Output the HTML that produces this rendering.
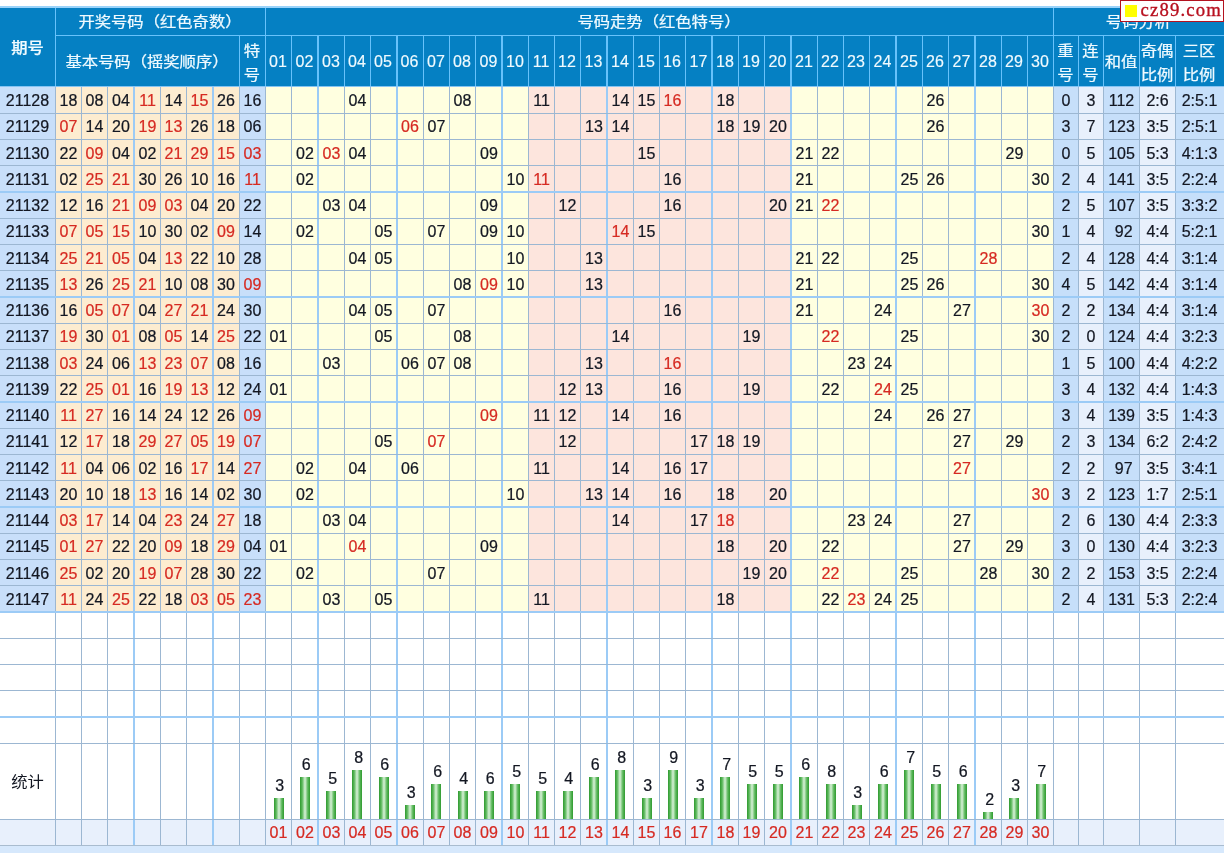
<!DOCTYPE html>
<html lang="zh-CN"><head><meta charset="utf-8"><title>号码走势</title><style>
html,body{margin:0;padding:0;background:#fff;}
body{width:1224px;height:853px;overflow:hidden;position:relative;font-family:"Liberation Sans","Noto Sans CJK SC",sans-serif;font-size:16px;color:#131722;}
.r{position:absolute;}
.t{position:absolute;text-align:center;white-space:nowrap;overflow:visible;-webkit-text-stroke:0.22px currentColor;}
.h{color:#f0faff;-webkit-text-stroke:0.15px currentColor;}
.hc{-webkit-text-stroke:0.25px #f0faff;transform:scale(1.02,0.93);}
.cn{transform:scale(1.02,0.93);-webkit-text-stroke:0;}
.hb{font-weight:500;}
.two{line-height:25.5px;}
.red{color:#d62a22;}
.bar{position:absolute;width:10px;background:linear-gradient(90deg,#2f9a2f 0%,#5cb85c 22%,#d9f2d9 50%,#5cb85c 78%,#2f9a2f 100%);}
.wm{position:absolute;left:1120px;top:0;width:104px;height:22px;background:#fff;border:1px solid #b3121f;box-sizing:border-box;}
.sq{position:absolute;left:4px;top:4px;width:12px;height:12px;background:#ffff00;}
.wt{position:absolute;left:19.5px;top:-3.5px;font-family:"Liberation Serif",serif;font-size:18.7px;line-height:24px;color:#b8101f;letter-spacing:1.15px;-webkit-text-stroke:0.35px #b8101f;}
</style></head><body>
<div class="r" style="left:0.00px;top:6.00px;width:1224.00px;height:2.00px;background:#9ad3fa;"></div>
<div class="r" style="left:0.00px;top:8.00px;width:1224.00px;height:79.00px;background:#0580c3;"></div>
<div class="r" style="left:0.00px;top:87.00px;width:55.00px;height:26.00px;background:#c8dffa;"></div>
<div class="r" style="left:55.00px;top:87.00px;width:184.00px;height:26.00px;background:#fdecd0;"></div>
<div class="r" style="left:239.00px;top:87.00px;width:26.00px;height:26.00px;background:#c8dffa;"></div>
<div class="r" style="left:265.00px;top:87.00px;width:263.00px;height:26.00px;background:#ffffe0;"></div>
<div class="r" style="left:528.00px;top:87.00px;width:263.00px;height:26.00px;background:#fde5dd;"></div>
<div class="r" style="left:791.00px;top:87.00px;width:262.00px;height:26.00px;background:#ffffe0;"></div>
<div class="r" style="left:1053.00px;top:87.00px;width:25.00px;height:26.00px;background:#c6dffa;"></div>
<div class="r" style="left:1078.00px;top:87.00px;width:25.00px;height:26.00px;background:#e8f0fc;"></div>
<div class="r" style="left:1103.00px;top:87.00px;width:36.00px;height:26.00px;background:#c6dffa;"></div>
<div class="r" style="left:1139.00px;top:87.00px;width:36.00px;height:26.00px;background:#e8f0fc;"></div>
<div class="r" style="left:1175.00px;top:87.00px;width:49.00px;height:26.00px;background:#c6dffa;"></div>
<div class="r" style="left:0.00px;top:113.00px;width:55.00px;height:26.00px;background:#c8dffa;"></div>
<div class="r" style="left:55.00px;top:113.00px;width:184.00px;height:26.00px;background:#fdecd0;"></div>
<div class="r" style="left:239.00px;top:113.00px;width:26.00px;height:26.00px;background:#c8dffa;"></div>
<div class="r" style="left:265.00px;top:113.00px;width:263.00px;height:26.00px;background:#ffffe0;"></div>
<div class="r" style="left:528.00px;top:113.00px;width:263.00px;height:26.00px;background:#fde5dd;"></div>
<div class="r" style="left:791.00px;top:113.00px;width:262.00px;height:26.00px;background:#ffffe0;"></div>
<div class="r" style="left:1053.00px;top:113.00px;width:25.00px;height:26.00px;background:#c6dffa;"></div>
<div class="r" style="left:1078.00px;top:113.00px;width:25.00px;height:26.00px;background:#e8f0fc;"></div>
<div class="r" style="left:1103.00px;top:113.00px;width:36.00px;height:26.00px;background:#c6dffa;"></div>
<div class="r" style="left:1139.00px;top:113.00px;width:36.00px;height:26.00px;background:#e8f0fc;"></div>
<div class="r" style="left:1175.00px;top:113.00px;width:49.00px;height:26.00px;background:#c6dffa;"></div>
<div class="r" style="left:0.00px;top:139.00px;width:55.00px;height:26.00px;background:#c8dffa;"></div>
<div class="r" style="left:55.00px;top:139.00px;width:184.00px;height:26.00px;background:#fdecd0;"></div>
<div class="r" style="left:239.00px;top:139.00px;width:26.00px;height:26.00px;background:#c8dffa;"></div>
<div class="r" style="left:265.00px;top:139.00px;width:263.00px;height:26.00px;background:#ffffe0;"></div>
<div class="r" style="left:528.00px;top:139.00px;width:263.00px;height:26.00px;background:#fde5dd;"></div>
<div class="r" style="left:791.00px;top:139.00px;width:262.00px;height:26.00px;background:#ffffe0;"></div>
<div class="r" style="left:1053.00px;top:139.00px;width:25.00px;height:26.00px;background:#c6dffa;"></div>
<div class="r" style="left:1078.00px;top:139.00px;width:25.00px;height:26.00px;background:#e8f0fc;"></div>
<div class="r" style="left:1103.00px;top:139.00px;width:36.00px;height:26.00px;background:#c6dffa;"></div>
<div class="r" style="left:1139.00px;top:139.00px;width:36.00px;height:26.00px;background:#e8f0fc;"></div>
<div class="r" style="left:1175.00px;top:139.00px;width:49.00px;height:26.00px;background:#c6dffa;"></div>
<div class="r" style="left:0.00px;top:165.00px;width:55.00px;height:27.00px;background:#c8dffa;"></div>
<div class="r" style="left:55.00px;top:165.00px;width:184.00px;height:27.00px;background:#fdecd0;"></div>
<div class="r" style="left:239.00px;top:165.00px;width:26.00px;height:27.00px;background:#c8dffa;"></div>
<div class="r" style="left:265.00px;top:165.00px;width:263.00px;height:27.00px;background:#ffffe0;"></div>
<div class="r" style="left:528.00px;top:165.00px;width:263.00px;height:27.00px;background:#fde5dd;"></div>
<div class="r" style="left:791.00px;top:165.00px;width:262.00px;height:27.00px;background:#ffffe0;"></div>
<div class="r" style="left:1053.00px;top:165.00px;width:25.00px;height:27.00px;background:#c6dffa;"></div>
<div class="r" style="left:1078.00px;top:165.00px;width:25.00px;height:27.00px;background:#e8f0fc;"></div>
<div class="r" style="left:1103.00px;top:165.00px;width:36.00px;height:27.00px;background:#c6dffa;"></div>
<div class="r" style="left:1139.00px;top:165.00px;width:36.00px;height:27.00px;background:#e8f0fc;"></div>
<div class="r" style="left:1175.00px;top:165.00px;width:49.00px;height:27.00px;background:#c6dffa;"></div>
<div class="r" style="left:0.00px;top:192.00px;width:55.00px;height:26.00px;background:#c8dffa;"></div>
<div class="r" style="left:55.00px;top:192.00px;width:184.00px;height:26.00px;background:#fdecd0;"></div>
<div class="r" style="left:239.00px;top:192.00px;width:26.00px;height:26.00px;background:#c8dffa;"></div>
<div class="r" style="left:265.00px;top:192.00px;width:263.00px;height:26.00px;background:#ffffe0;"></div>
<div class="r" style="left:528.00px;top:192.00px;width:263.00px;height:26.00px;background:#fde5dd;"></div>
<div class="r" style="left:791.00px;top:192.00px;width:262.00px;height:26.00px;background:#ffffe0;"></div>
<div class="r" style="left:1053.00px;top:192.00px;width:25.00px;height:26.00px;background:#c6dffa;"></div>
<div class="r" style="left:1078.00px;top:192.00px;width:25.00px;height:26.00px;background:#e8f0fc;"></div>
<div class="r" style="left:1103.00px;top:192.00px;width:36.00px;height:26.00px;background:#c6dffa;"></div>
<div class="r" style="left:1139.00px;top:192.00px;width:36.00px;height:26.00px;background:#e8f0fc;"></div>
<div class="r" style="left:1175.00px;top:192.00px;width:49.00px;height:26.00px;background:#c6dffa;"></div>
<div class="r" style="left:0.00px;top:218.00px;width:55.00px;height:26.00px;background:#c8dffa;"></div>
<div class="r" style="left:55.00px;top:218.00px;width:184.00px;height:26.00px;background:#fdecd0;"></div>
<div class="r" style="left:239.00px;top:218.00px;width:26.00px;height:26.00px;background:#c8dffa;"></div>
<div class="r" style="left:265.00px;top:218.00px;width:263.00px;height:26.00px;background:#ffffe0;"></div>
<div class="r" style="left:528.00px;top:218.00px;width:263.00px;height:26.00px;background:#fde5dd;"></div>
<div class="r" style="left:791.00px;top:218.00px;width:262.00px;height:26.00px;background:#ffffe0;"></div>
<div class="r" style="left:1053.00px;top:218.00px;width:25.00px;height:26.00px;background:#c6dffa;"></div>
<div class="r" style="left:1078.00px;top:218.00px;width:25.00px;height:26.00px;background:#e8f0fc;"></div>
<div class="r" style="left:1103.00px;top:218.00px;width:36.00px;height:26.00px;background:#c6dffa;"></div>
<div class="r" style="left:1139.00px;top:218.00px;width:36.00px;height:26.00px;background:#e8f0fc;"></div>
<div class="r" style="left:1175.00px;top:218.00px;width:49.00px;height:26.00px;background:#c6dffa;"></div>
<div class="r" style="left:0.00px;top:244.00px;width:55.00px;height:26.00px;background:#c8dffa;"></div>
<div class="r" style="left:55.00px;top:244.00px;width:184.00px;height:26.00px;background:#fdecd0;"></div>
<div class="r" style="left:239.00px;top:244.00px;width:26.00px;height:26.00px;background:#c8dffa;"></div>
<div class="r" style="left:265.00px;top:244.00px;width:263.00px;height:26.00px;background:#ffffe0;"></div>
<div class="r" style="left:528.00px;top:244.00px;width:263.00px;height:26.00px;background:#fde5dd;"></div>
<div class="r" style="left:791.00px;top:244.00px;width:262.00px;height:26.00px;background:#ffffe0;"></div>
<div class="r" style="left:1053.00px;top:244.00px;width:25.00px;height:26.00px;background:#c6dffa;"></div>
<div class="r" style="left:1078.00px;top:244.00px;width:25.00px;height:26.00px;background:#e8f0fc;"></div>
<div class="r" style="left:1103.00px;top:244.00px;width:36.00px;height:26.00px;background:#c6dffa;"></div>
<div class="r" style="left:1139.00px;top:244.00px;width:36.00px;height:26.00px;background:#e8f0fc;"></div>
<div class="r" style="left:1175.00px;top:244.00px;width:49.00px;height:26.00px;background:#c6dffa;"></div>
<div class="r" style="left:0.00px;top:270.00px;width:55.00px;height:27.00px;background:#c8dffa;"></div>
<div class="r" style="left:55.00px;top:270.00px;width:184.00px;height:27.00px;background:#fdecd0;"></div>
<div class="r" style="left:239.00px;top:270.00px;width:26.00px;height:27.00px;background:#c8dffa;"></div>
<div class="r" style="left:265.00px;top:270.00px;width:263.00px;height:27.00px;background:#ffffe0;"></div>
<div class="r" style="left:528.00px;top:270.00px;width:263.00px;height:27.00px;background:#fde5dd;"></div>
<div class="r" style="left:791.00px;top:270.00px;width:262.00px;height:27.00px;background:#ffffe0;"></div>
<div class="r" style="left:1053.00px;top:270.00px;width:25.00px;height:27.00px;background:#c6dffa;"></div>
<div class="r" style="left:1078.00px;top:270.00px;width:25.00px;height:27.00px;background:#e8f0fc;"></div>
<div class="r" style="left:1103.00px;top:270.00px;width:36.00px;height:27.00px;background:#c6dffa;"></div>
<div class="r" style="left:1139.00px;top:270.00px;width:36.00px;height:27.00px;background:#e8f0fc;"></div>
<div class="r" style="left:1175.00px;top:270.00px;width:49.00px;height:27.00px;background:#c6dffa;"></div>
<div class="r" style="left:0.00px;top:297.00px;width:55.00px;height:26.00px;background:#c8dffa;"></div>
<div class="r" style="left:55.00px;top:297.00px;width:184.00px;height:26.00px;background:#fdecd0;"></div>
<div class="r" style="left:239.00px;top:297.00px;width:26.00px;height:26.00px;background:#c8dffa;"></div>
<div class="r" style="left:265.00px;top:297.00px;width:263.00px;height:26.00px;background:#ffffe0;"></div>
<div class="r" style="left:528.00px;top:297.00px;width:263.00px;height:26.00px;background:#fde5dd;"></div>
<div class="r" style="left:791.00px;top:297.00px;width:262.00px;height:26.00px;background:#ffffe0;"></div>
<div class="r" style="left:1053.00px;top:297.00px;width:25.00px;height:26.00px;background:#c6dffa;"></div>
<div class="r" style="left:1078.00px;top:297.00px;width:25.00px;height:26.00px;background:#e8f0fc;"></div>
<div class="r" style="left:1103.00px;top:297.00px;width:36.00px;height:26.00px;background:#c6dffa;"></div>
<div class="r" style="left:1139.00px;top:297.00px;width:36.00px;height:26.00px;background:#e8f0fc;"></div>
<div class="r" style="left:1175.00px;top:297.00px;width:49.00px;height:26.00px;background:#c6dffa;"></div>
<div class="r" style="left:0.00px;top:323.00px;width:55.00px;height:26.00px;background:#c8dffa;"></div>
<div class="r" style="left:55.00px;top:323.00px;width:184.00px;height:26.00px;background:#fdecd0;"></div>
<div class="r" style="left:239.00px;top:323.00px;width:26.00px;height:26.00px;background:#c8dffa;"></div>
<div class="r" style="left:265.00px;top:323.00px;width:263.00px;height:26.00px;background:#ffffe0;"></div>
<div class="r" style="left:528.00px;top:323.00px;width:263.00px;height:26.00px;background:#fde5dd;"></div>
<div class="r" style="left:791.00px;top:323.00px;width:262.00px;height:26.00px;background:#ffffe0;"></div>
<div class="r" style="left:1053.00px;top:323.00px;width:25.00px;height:26.00px;background:#c6dffa;"></div>
<div class="r" style="left:1078.00px;top:323.00px;width:25.00px;height:26.00px;background:#e8f0fc;"></div>
<div class="r" style="left:1103.00px;top:323.00px;width:36.00px;height:26.00px;background:#c6dffa;"></div>
<div class="r" style="left:1139.00px;top:323.00px;width:36.00px;height:26.00px;background:#e8f0fc;"></div>
<div class="r" style="left:1175.00px;top:323.00px;width:49.00px;height:26.00px;background:#c6dffa;"></div>
<div class="r" style="left:0.00px;top:349.00px;width:55.00px;height:26.00px;background:#c8dffa;"></div>
<div class="r" style="left:55.00px;top:349.00px;width:184.00px;height:26.00px;background:#fdecd0;"></div>
<div class="r" style="left:239.00px;top:349.00px;width:26.00px;height:26.00px;background:#c8dffa;"></div>
<div class="r" style="left:265.00px;top:349.00px;width:263.00px;height:26.00px;background:#ffffe0;"></div>
<div class="r" style="left:528.00px;top:349.00px;width:263.00px;height:26.00px;background:#fde5dd;"></div>
<div class="r" style="left:791.00px;top:349.00px;width:262.00px;height:26.00px;background:#ffffe0;"></div>
<div class="r" style="left:1053.00px;top:349.00px;width:25.00px;height:26.00px;background:#c6dffa;"></div>
<div class="r" style="left:1078.00px;top:349.00px;width:25.00px;height:26.00px;background:#e8f0fc;"></div>
<div class="r" style="left:1103.00px;top:349.00px;width:36.00px;height:26.00px;background:#c6dffa;"></div>
<div class="r" style="left:1139.00px;top:349.00px;width:36.00px;height:26.00px;background:#e8f0fc;"></div>
<div class="r" style="left:1175.00px;top:349.00px;width:49.00px;height:26.00px;background:#c6dffa;"></div>
<div class="r" style="left:0.00px;top:375.00px;width:55.00px;height:27.00px;background:#c8dffa;"></div>
<div class="r" style="left:55.00px;top:375.00px;width:184.00px;height:27.00px;background:#fdecd0;"></div>
<div class="r" style="left:239.00px;top:375.00px;width:26.00px;height:27.00px;background:#c8dffa;"></div>
<div class="r" style="left:265.00px;top:375.00px;width:263.00px;height:27.00px;background:#ffffe0;"></div>
<div class="r" style="left:528.00px;top:375.00px;width:263.00px;height:27.00px;background:#fde5dd;"></div>
<div class="r" style="left:791.00px;top:375.00px;width:262.00px;height:27.00px;background:#ffffe0;"></div>
<div class="r" style="left:1053.00px;top:375.00px;width:25.00px;height:27.00px;background:#c6dffa;"></div>
<div class="r" style="left:1078.00px;top:375.00px;width:25.00px;height:27.00px;background:#e8f0fc;"></div>
<div class="r" style="left:1103.00px;top:375.00px;width:36.00px;height:27.00px;background:#c6dffa;"></div>
<div class="r" style="left:1139.00px;top:375.00px;width:36.00px;height:27.00px;background:#e8f0fc;"></div>
<div class="r" style="left:1175.00px;top:375.00px;width:49.00px;height:27.00px;background:#c6dffa;"></div>
<div class="r" style="left:0.00px;top:402.00px;width:55.00px;height:26.00px;background:#c8dffa;"></div>
<div class="r" style="left:55.00px;top:402.00px;width:184.00px;height:26.00px;background:#fdecd0;"></div>
<div class="r" style="left:239.00px;top:402.00px;width:26.00px;height:26.00px;background:#c8dffa;"></div>
<div class="r" style="left:265.00px;top:402.00px;width:263.00px;height:26.00px;background:#ffffe0;"></div>
<div class="r" style="left:528.00px;top:402.00px;width:263.00px;height:26.00px;background:#fde5dd;"></div>
<div class="r" style="left:791.00px;top:402.00px;width:262.00px;height:26.00px;background:#ffffe0;"></div>
<div class="r" style="left:1053.00px;top:402.00px;width:25.00px;height:26.00px;background:#c6dffa;"></div>
<div class="r" style="left:1078.00px;top:402.00px;width:25.00px;height:26.00px;background:#e8f0fc;"></div>
<div class="r" style="left:1103.00px;top:402.00px;width:36.00px;height:26.00px;background:#c6dffa;"></div>
<div class="r" style="left:1139.00px;top:402.00px;width:36.00px;height:26.00px;background:#e8f0fc;"></div>
<div class="r" style="left:1175.00px;top:402.00px;width:49.00px;height:26.00px;background:#c6dffa;"></div>
<div class="r" style="left:0.00px;top:428.00px;width:55.00px;height:26.00px;background:#c8dffa;"></div>
<div class="r" style="left:55.00px;top:428.00px;width:184.00px;height:26.00px;background:#fdecd0;"></div>
<div class="r" style="left:239.00px;top:428.00px;width:26.00px;height:26.00px;background:#c8dffa;"></div>
<div class="r" style="left:265.00px;top:428.00px;width:263.00px;height:26.00px;background:#ffffe0;"></div>
<div class="r" style="left:528.00px;top:428.00px;width:263.00px;height:26.00px;background:#fde5dd;"></div>
<div class="r" style="left:791.00px;top:428.00px;width:262.00px;height:26.00px;background:#ffffe0;"></div>
<div class="r" style="left:1053.00px;top:428.00px;width:25.00px;height:26.00px;background:#c6dffa;"></div>
<div class="r" style="left:1078.00px;top:428.00px;width:25.00px;height:26.00px;background:#e8f0fc;"></div>
<div class="r" style="left:1103.00px;top:428.00px;width:36.00px;height:26.00px;background:#c6dffa;"></div>
<div class="r" style="left:1139.00px;top:428.00px;width:36.00px;height:26.00px;background:#e8f0fc;"></div>
<div class="r" style="left:1175.00px;top:428.00px;width:49.00px;height:26.00px;background:#c6dffa;"></div>
<div class="r" style="left:0.00px;top:454.00px;width:55.00px;height:26.00px;background:#c8dffa;"></div>
<div class="r" style="left:55.00px;top:454.00px;width:184.00px;height:26.00px;background:#fdecd0;"></div>
<div class="r" style="left:239.00px;top:454.00px;width:26.00px;height:26.00px;background:#c8dffa;"></div>
<div class="r" style="left:265.00px;top:454.00px;width:263.00px;height:26.00px;background:#ffffe0;"></div>
<div class="r" style="left:528.00px;top:454.00px;width:263.00px;height:26.00px;background:#fde5dd;"></div>
<div class="r" style="left:791.00px;top:454.00px;width:262.00px;height:26.00px;background:#ffffe0;"></div>
<div class="r" style="left:1053.00px;top:454.00px;width:25.00px;height:26.00px;background:#c6dffa;"></div>
<div class="r" style="left:1078.00px;top:454.00px;width:25.00px;height:26.00px;background:#e8f0fc;"></div>
<div class="r" style="left:1103.00px;top:454.00px;width:36.00px;height:26.00px;background:#c6dffa;"></div>
<div class="r" style="left:1139.00px;top:454.00px;width:36.00px;height:26.00px;background:#e8f0fc;"></div>
<div class="r" style="left:1175.00px;top:454.00px;width:49.00px;height:26.00px;background:#c6dffa;"></div>
<div class="r" style="left:0.00px;top:480.00px;width:55.00px;height:27.00px;background:#c8dffa;"></div>
<div class="r" style="left:55.00px;top:480.00px;width:184.00px;height:27.00px;background:#fdecd0;"></div>
<div class="r" style="left:239.00px;top:480.00px;width:26.00px;height:27.00px;background:#c8dffa;"></div>
<div class="r" style="left:265.00px;top:480.00px;width:263.00px;height:27.00px;background:#ffffe0;"></div>
<div class="r" style="left:528.00px;top:480.00px;width:263.00px;height:27.00px;background:#fde5dd;"></div>
<div class="r" style="left:791.00px;top:480.00px;width:262.00px;height:27.00px;background:#ffffe0;"></div>
<div class="r" style="left:1053.00px;top:480.00px;width:25.00px;height:27.00px;background:#c6dffa;"></div>
<div class="r" style="left:1078.00px;top:480.00px;width:25.00px;height:27.00px;background:#e8f0fc;"></div>
<div class="r" style="left:1103.00px;top:480.00px;width:36.00px;height:27.00px;background:#c6dffa;"></div>
<div class="r" style="left:1139.00px;top:480.00px;width:36.00px;height:27.00px;background:#e8f0fc;"></div>
<div class="r" style="left:1175.00px;top:480.00px;width:49.00px;height:27.00px;background:#c6dffa;"></div>
<div class="r" style="left:0.00px;top:507.00px;width:55.00px;height:26.00px;background:#c8dffa;"></div>
<div class="r" style="left:55.00px;top:507.00px;width:184.00px;height:26.00px;background:#fdecd0;"></div>
<div class="r" style="left:239.00px;top:507.00px;width:26.00px;height:26.00px;background:#c8dffa;"></div>
<div class="r" style="left:265.00px;top:507.00px;width:263.00px;height:26.00px;background:#ffffe0;"></div>
<div class="r" style="left:528.00px;top:507.00px;width:263.00px;height:26.00px;background:#fde5dd;"></div>
<div class="r" style="left:791.00px;top:507.00px;width:262.00px;height:26.00px;background:#ffffe0;"></div>
<div class="r" style="left:1053.00px;top:507.00px;width:25.00px;height:26.00px;background:#c6dffa;"></div>
<div class="r" style="left:1078.00px;top:507.00px;width:25.00px;height:26.00px;background:#e8f0fc;"></div>
<div class="r" style="left:1103.00px;top:507.00px;width:36.00px;height:26.00px;background:#c6dffa;"></div>
<div class="r" style="left:1139.00px;top:507.00px;width:36.00px;height:26.00px;background:#e8f0fc;"></div>
<div class="r" style="left:1175.00px;top:507.00px;width:49.00px;height:26.00px;background:#c6dffa;"></div>
<div class="r" style="left:0.00px;top:533.00px;width:55.00px;height:26.00px;background:#c8dffa;"></div>
<div class="r" style="left:55.00px;top:533.00px;width:184.00px;height:26.00px;background:#fdecd0;"></div>
<div class="r" style="left:239.00px;top:533.00px;width:26.00px;height:26.00px;background:#c8dffa;"></div>
<div class="r" style="left:265.00px;top:533.00px;width:263.00px;height:26.00px;background:#ffffe0;"></div>
<div class="r" style="left:528.00px;top:533.00px;width:263.00px;height:26.00px;background:#fde5dd;"></div>
<div class="r" style="left:791.00px;top:533.00px;width:262.00px;height:26.00px;background:#ffffe0;"></div>
<div class="r" style="left:1053.00px;top:533.00px;width:25.00px;height:26.00px;background:#c6dffa;"></div>
<div class="r" style="left:1078.00px;top:533.00px;width:25.00px;height:26.00px;background:#e8f0fc;"></div>
<div class="r" style="left:1103.00px;top:533.00px;width:36.00px;height:26.00px;background:#c6dffa;"></div>
<div class="r" style="left:1139.00px;top:533.00px;width:36.00px;height:26.00px;background:#e8f0fc;"></div>
<div class="r" style="left:1175.00px;top:533.00px;width:49.00px;height:26.00px;background:#c6dffa;"></div>
<div class="r" style="left:0.00px;top:559.00px;width:55.00px;height:26.00px;background:#c8dffa;"></div>
<div class="r" style="left:55.00px;top:559.00px;width:184.00px;height:26.00px;background:#fdecd0;"></div>
<div class="r" style="left:239.00px;top:559.00px;width:26.00px;height:26.00px;background:#c8dffa;"></div>
<div class="r" style="left:265.00px;top:559.00px;width:263.00px;height:26.00px;background:#ffffe0;"></div>
<div class="r" style="left:528.00px;top:559.00px;width:263.00px;height:26.00px;background:#fde5dd;"></div>
<div class="r" style="left:791.00px;top:559.00px;width:262.00px;height:26.00px;background:#ffffe0;"></div>
<div class="r" style="left:1053.00px;top:559.00px;width:25.00px;height:26.00px;background:#c6dffa;"></div>
<div class="r" style="left:1078.00px;top:559.00px;width:25.00px;height:26.00px;background:#e8f0fc;"></div>
<div class="r" style="left:1103.00px;top:559.00px;width:36.00px;height:26.00px;background:#c6dffa;"></div>
<div class="r" style="left:1139.00px;top:559.00px;width:36.00px;height:26.00px;background:#e8f0fc;"></div>
<div class="r" style="left:1175.00px;top:559.00px;width:49.00px;height:26.00px;background:#c6dffa;"></div>
<div class="r" style="left:0.00px;top:585.00px;width:55.00px;height:27.00px;background:#c8dffa;"></div>
<div class="r" style="left:55.00px;top:585.00px;width:184.00px;height:27.00px;background:#fdecd0;"></div>
<div class="r" style="left:239.00px;top:585.00px;width:26.00px;height:27.00px;background:#c8dffa;"></div>
<div class="r" style="left:265.00px;top:585.00px;width:263.00px;height:27.00px;background:#ffffe0;"></div>
<div class="r" style="left:528.00px;top:585.00px;width:263.00px;height:27.00px;background:#fde5dd;"></div>
<div class="r" style="left:791.00px;top:585.00px;width:262.00px;height:27.00px;background:#ffffe0;"></div>
<div class="r" style="left:1053.00px;top:585.00px;width:25.00px;height:27.00px;background:#c6dffa;"></div>
<div class="r" style="left:1078.00px;top:585.00px;width:25.00px;height:27.00px;background:#e8f0fc;"></div>
<div class="r" style="left:1103.00px;top:585.00px;width:36.00px;height:27.00px;background:#c6dffa;"></div>
<div class="r" style="left:1139.00px;top:585.00px;width:36.00px;height:27.00px;background:#e8f0fc;"></div>
<div class="r" style="left:1175.00px;top:585.00px;width:49.00px;height:27.00px;background:#c6dffa;"></div>
<div class="r" style="left:0.00px;top:819.00px;width:1224.00px;height:26.00px;background:#e8f0fc;"></div>
<div class="r" style="left:0.00px;top:845.00px;width:1224.00px;height:8.00px;background:#d6e8fc;"></div>
<div class="r" style="left:55.00px;top:87.00px;width:1.00px;height:758.00px;background:#9cb7d2;"></div>
<div class="r" style="left:81.00px;top:87.00px;width:1.00px;height:758.00px;background:#9cb7d2;"></div>
<div class="r" style="left:107.00px;top:87.00px;width:1.00px;height:758.00px;background:#9cb7d2;"></div>
<div class="r" style="left:133.00px;top:87.00px;width:2.00px;height:758.00px;background:#9ccbf6;"></div>
<div class="r" style="left:160.00px;top:87.00px;width:1.00px;height:758.00px;background:#9cb7d2;"></div>
<div class="r" style="left:186.00px;top:87.00px;width:1.00px;height:758.00px;background:#9cb7d2;"></div>
<div class="r" style="left:212.00px;top:87.00px;width:2.00px;height:758.00px;background:#9ccbf6;"></div>
<div class="r" style="left:239.00px;top:87.00px;width:1.00px;height:758.00px;background:#9cb7d2;"></div>
<div class="r" style="left:265.00px;top:87.00px;width:1.00px;height:758.00px;background:#9cb7d2;"></div>
<div class="r" style="left:291.00px;top:87.00px;width:1.00px;height:758.00px;background:#9cb7d2;"></div>
<div class="r" style="left:317.00px;top:87.00px;width:2.00px;height:758.00px;background:#9ccbf6;"></div>
<div class="r" style="left:344.00px;top:87.00px;width:1.00px;height:758.00px;background:#9cb7d2;"></div>
<div class="r" style="left:370.00px;top:87.00px;width:1.00px;height:758.00px;background:#9cb7d2;"></div>
<div class="r" style="left:396.00px;top:87.00px;width:2.00px;height:758.00px;background:#9ccbf6;"></div>
<div class="r" style="left:423.00px;top:87.00px;width:1.00px;height:758.00px;background:#9cb7d2;"></div>
<div class="r" style="left:449.00px;top:87.00px;width:1.00px;height:758.00px;background:#9cb7d2;"></div>
<div class="r" style="left:475.00px;top:87.00px;width:1.00px;height:758.00px;background:#9cb7d2;"></div>
<div class="r" style="left:501.00px;top:87.00px;width:2.00px;height:758.00px;background:#9ccbf6;"></div>
<div class="r" style="left:528.00px;top:87.00px;width:1.00px;height:758.00px;background:#9cb7d2;"></div>
<div class="r" style="left:554.00px;top:87.00px;width:1.00px;height:758.00px;background:#9cb7d2;"></div>
<div class="r" style="left:580.00px;top:87.00px;width:1.00px;height:758.00px;background:#9cb7d2;"></div>
<div class="r" style="left:606.00px;top:87.00px;width:2.00px;height:758.00px;background:#9ccbf6;"></div>
<div class="r" style="left:633.00px;top:87.00px;width:1.00px;height:758.00px;background:#9cb7d2;"></div>
<div class="r" style="left:659.00px;top:87.00px;width:1.00px;height:758.00px;background:#9cb7d2;"></div>
<div class="r" style="left:685.00px;top:87.00px;width:1.00px;height:758.00px;background:#9cb7d2;"></div>
<div class="r" style="left:711.00px;top:87.00px;width:2.00px;height:758.00px;background:#9ccbf6;"></div>
<div class="r" style="left:738.00px;top:87.00px;width:1.00px;height:758.00px;background:#9cb7d2;"></div>
<div class="r" style="left:764.00px;top:87.00px;width:1.00px;height:758.00px;background:#9cb7d2;"></div>
<div class="r" style="left:790.00px;top:87.00px;width:2.00px;height:758.00px;background:#9ccbf6;"></div>
<div class="r" style="left:817.00px;top:87.00px;width:1.00px;height:758.00px;background:#9cb7d2;"></div>
<div class="r" style="left:843.00px;top:87.00px;width:1.00px;height:758.00px;background:#9cb7d2;"></div>
<div class="r" style="left:869.00px;top:87.00px;width:1.00px;height:758.00px;background:#9cb7d2;"></div>
<div class="r" style="left:895.00px;top:87.00px;width:2.00px;height:758.00px;background:#9ccbf6;"></div>
<div class="r" style="left:922.00px;top:87.00px;width:1.00px;height:758.00px;background:#9cb7d2;"></div>
<div class="r" style="left:948.00px;top:87.00px;width:1.00px;height:758.00px;background:#9cb7d2;"></div>
<div class="r" style="left:974.00px;top:87.00px;width:2.00px;height:758.00px;background:#9ccbf6;"></div>
<div class="r" style="left:1001.00px;top:87.00px;width:1.00px;height:758.00px;background:#9cb7d2;"></div>
<div class="r" style="left:1027.00px;top:87.00px;width:1.00px;height:758.00px;background:#9cb7d2;"></div>
<div class="r" style="left:1053.00px;top:87.00px;width:1.00px;height:758.00px;background:#9cb7d2;"></div>
<div class="r" style="left:1078.00px;top:87.00px;width:1.00px;height:758.00px;background:#9cb7d2;"></div>
<div class="r" style="left:1103.00px;top:87.00px;width:1.00px;height:758.00px;background:#9cb7d2;"></div>
<div class="r" style="left:1139.00px;top:87.00px;width:1.00px;height:758.00px;background:#9cb7d2;"></div>
<div class="r" style="left:1175.00px;top:87.00px;width:1.00px;height:758.00px;background:#9cb7d2;"></div>
<div class="r" style="left:0.00px;top:113.00px;width:1224.00px;height:1.00px;background:#9cb7d2;"></div>
<div class="r" style="left:0.00px;top:139.00px;width:1224.00px;height:1.00px;background:#9cb7d2;"></div>
<div class="r" style="left:0.00px;top:165.00px;width:1224.00px;height:1.00px;background:#9cb7d2;"></div>
<div class="r" style="left:0.00px;top:191.00px;width:1224.00px;height:2.00px;background:#9ccbf6;"></div>
<div class="r" style="left:0.00px;top:218.00px;width:1224.00px;height:1.00px;background:#9cb7d2;"></div>
<div class="r" style="left:0.00px;top:244.00px;width:1224.00px;height:1.00px;background:#9cb7d2;"></div>
<div class="r" style="left:0.00px;top:270.00px;width:1224.00px;height:1.00px;background:#9cb7d2;"></div>
<div class="r" style="left:0.00px;top:296.00px;width:1224.00px;height:2.00px;background:#9ccbf6;"></div>
<div class="r" style="left:0.00px;top:323.00px;width:1224.00px;height:1.00px;background:#9cb7d2;"></div>
<div class="r" style="left:0.00px;top:349.00px;width:1224.00px;height:1.00px;background:#9cb7d2;"></div>
<div class="r" style="left:0.00px;top:375.00px;width:1224.00px;height:1.00px;background:#9cb7d2;"></div>
<div class="r" style="left:0.00px;top:401.00px;width:1224.00px;height:2.00px;background:#9ccbf6;"></div>
<div class="r" style="left:0.00px;top:428.00px;width:1224.00px;height:1.00px;background:#9cb7d2;"></div>
<div class="r" style="left:0.00px;top:454.00px;width:1224.00px;height:1.00px;background:#9cb7d2;"></div>
<div class="r" style="left:0.00px;top:480.00px;width:1224.00px;height:1.00px;background:#9cb7d2;"></div>
<div class="r" style="left:0.00px;top:506.00px;width:1224.00px;height:2.00px;background:#9ccbf6;"></div>
<div class="r" style="left:0.00px;top:533.00px;width:1224.00px;height:1.00px;background:#9cb7d2;"></div>
<div class="r" style="left:0.00px;top:559.00px;width:1224.00px;height:1.00px;background:#9cb7d2;"></div>
<div class="r" style="left:0.00px;top:585.00px;width:1224.00px;height:1.00px;background:#9cb7d2;"></div>
<div class="r" style="left:0.00px;top:611.00px;width:1224.00px;height:2.00px;background:#9ccbf6;"></div>
<div class="r" style="left:0.00px;top:638.00px;width:1224.00px;height:1.00px;background:#9cb7d2;"></div>
<div class="r" style="left:0.00px;top:664.00px;width:1224.00px;height:1.00px;background:#9cb7d2;"></div>
<div class="r" style="left:0.00px;top:690.00px;width:1224.00px;height:1.00px;background:#9cb7d2;"></div>
<div class="r" style="left:0.00px;top:716.00px;width:1224.00px;height:2.00px;background:#9ccbf6;"></div>
<div class="r" style="left:0.00px;top:743.00px;width:1224.00px;height:1.00px;background:#9cb7d2;"></div>
<div class="r" style="left:0.00px;top:819.00px;width:1224.00px;height:1.00px;background:#9cb7d2;"></div>
<div class="r" style="left:0.00px;top:845.00px;width:1224.00px;height:1.00px;background:#a9bccf;"></div>
<div class="r" style="left:55.00px;top:35.00px;width:1169.00px;height:1.00px;background:#68c2fb;"></div>
<div class="r" style="left:55.00px;top:8.00px;width:1.00px;height:79.00px;background:#68c2fb;"></div>
<div class="r" style="left:265.00px;top:8.00px;width:1.00px;height:79.00px;background:#68c2fb;"></div>
<div class="r" style="left:1053.00px;top:8.00px;width:1.00px;height:79.00px;background:#68c2fb;"></div>
<div class="r" style="left:239.00px;top:35.00px;width:1.00px;height:52.00px;background:#68c2fb;"></div>
<div class="r" style="left:291.00px;top:35.00px;width:1.00px;height:52.00px;background:#68c2fb;"></div>
<div class="r" style="left:317.00px;top:35.00px;width:2.00px;height:52.00px;background:#68c2fb;"></div>
<div class="r" style="left:344.00px;top:35.00px;width:1.00px;height:52.00px;background:#68c2fb;"></div>
<div class="r" style="left:370.00px;top:35.00px;width:1.00px;height:52.00px;background:#68c2fb;"></div>
<div class="r" style="left:396.00px;top:35.00px;width:2.00px;height:52.00px;background:#68c2fb;"></div>
<div class="r" style="left:423.00px;top:35.00px;width:1.00px;height:52.00px;background:#68c2fb;"></div>
<div class="r" style="left:449.00px;top:35.00px;width:1.00px;height:52.00px;background:#68c2fb;"></div>
<div class="r" style="left:475.00px;top:35.00px;width:1.00px;height:52.00px;background:#68c2fb;"></div>
<div class="r" style="left:501.00px;top:35.00px;width:2.00px;height:52.00px;background:#68c2fb;"></div>
<div class="r" style="left:528.00px;top:35.00px;width:1.00px;height:52.00px;background:#68c2fb;"></div>
<div class="r" style="left:554.00px;top:35.00px;width:1.00px;height:52.00px;background:#68c2fb;"></div>
<div class="r" style="left:580.00px;top:35.00px;width:1.00px;height:52.00px;background:#68c2fb;"></div>
<div class="r" style="left:606.00px;top:35.00px;width:2.00px;height:52.00px;background:#68c2fb;"></div>
<div class="r" style="left:633.00px;top:35.00px;width:1.00px;height:52.00px;background:#68c2fb;"></div>
<div class="r" style="left:659.00px;top:35.00px;width:1.00px;height:52.00px;background:#68c2fb;"></div>
<div class="r" style="left:685.00px;top:35.00px;width:1.00px;height:52.00px;background:#68c2fb;"></div>
<div class="r" style="left:711.00px;top:35.00px;width:2.00px;height:52.00px;background:#68c2fb;"></div>
<div class="r" style="left:738.00px;top:35.00px;width:1.00px;height:52.00px;background:#68c2fb;"></div>
<div class="r" style="left:764.00px;top:35.00px;width:1.00px;height:52.00px;background:#68c2fb;"></div>
<div class="r" style="left:790.00px;top:35.00px;width:2.00px;height:52.00px;background:#68c2fb;"></div>
<div class="r" style="left:817.00px;top:35.00px;width:1.00px;height:52.00px;background:#68c2fb;"></div>
<div class="r" style="left:843.00px;top:35.00px;width:1.00px;height:52.00px;background:#68c2fb;"></div>
<div class="r" style="left:869.00px;top:35.00px;width:1.00px;height:52.00px;background:#68c2fb;"></div>
<div class="r" style="left:895.00px;top:35.00px;width:2.00px;height:52.00px;background:#68c2fb;"></div>
<div class="r" style="left:922.00px;top:35.00px;width:1.00px;height:52.00px;background:#68c2fb;"></div>
<div class="r" style="left:948.00px;top:35.00px;width:1.00px;height:52.00px;background:#68c2fb;"></div>
<div class="r" style="left:974.00px;top:35.00px;width:2.00px;height:52.00px;background:#68c2fb;"></div>
<div class="r" style="left:1001.00px;top:35.00px;width:1.00px;height:52.00px;background:#68c2fb;"></div>
<div class="r" style="left:1027.00px;top:35.00px;width:1.00px;height:52.00px;background:#68c2fb;"></div>
<div class="r" style="left:1078.00px;top:35.00px;width:1.00px;height:52.00px;background:#68c2fb;"></div>
<div class="r" style="left:1103.00px;top:35.00px;width:1.00px;height:52.00px;background:#68c2fb;"></div>
<div class="r" style="left:1139.00px;top:35.00px;width:1.00px;height:52.00px;background:#68c2fb;"></div>
<div class="r" style="left:1175.00px;top:35.00px;width:1.00px;height:52.00px;background:#68c2fb;"></div>
<div class="r" style="left:0.00px;top:86.00px;width:1224.00px;height:1.00px;background:#86c4f3;"></div>
<div class="t h hb hc" style="left:0.00px;top:8.00px;width:55.00px;height:79.00px;line-height:79.00px;">期号</div>
<div class="t h hc" style="left:55.00px;top:8.00px;width:210.00px;height:27.00px;line-height:27.00px;">开奖号码（红色奇数）</div>
<div class="t h hc" style="left:265.00px;top:8.00px;width:788.00px;height:27.00px;line-height:27.00px;">号码走势（红色特号）</div>
<div class="t h hc" style="left:1053.00px;top:8.00px;width:171.00px;height:27.00px;line-height:27.00px;">号码分析</div>
<div class="t h hc" style="left:55.00px;top:36.00px;width:184.00px;height:52.00px;line-height:52.00px;">基本号码（摇奖顺序）</div>
<div class="t h hc two" style="left:239px;top:37px;width:26px;height:51px;">特<br>号</div>
<div class="t h" style="left:265.00px;top:36.00px;width:26.00px;height:52.00px;line-height:52.00px;">01</div>
<div class="t h" style="left:291.00px;top:36.00px;width:27.00px;height:52.00px;line-height:52.00px;">02</div>
<div class="t h" style="left:318.00px;top:36.00px;width:26.00px;height:52.00px;line-height:52.00px;">03</div>
<div class="t h" style="left:344.00px;top:36.00px;width:26.00px;height:52.00px;line-height:52.00px;">04</div>
<div class="t h" style="left:370.00px;top:36.00px;width:26.00px;height:52.00px;line-height:52.00px;">05</div>
<div class="t h" style="left:396.00px;top:36.00px;width:27.00px;height:52.00px;line-height:52.00px;">06</div>
<div class="t h" style="left:423.00px;top:36.00px;width:26.00px;height:52.00px;line-height:52.00px;">07</div>
<div class="t h" style="left:449.00px;top:36.00px;width:26.00px;height:52.00px;line-height:52.00px;">08</div>
<div class="t h" style="left:475.00px;top:36.00px;width:27.00px;height:52.00px;line-height:52.00px;">09</div>
<div class="t h" style="left:502.00px;top:36.00px;width:26.00px;height:52.00px;line-height:52.00px;">10</div>
<div class="t h" style="left:528.00px;top:36.00px;width:26.00px;height:52.00px;line-height:52.00px;">11</div>
<div class="t h" style="left:554.00px;top:36.00px;width:26.00px;height:52.00px;line-height:52.00px;">12</div>
<div class="t h" style="left:580.00px;top:36.00px;width:27.00px;height:52.00px;line-height:52.00px;">13</div>
<div class="t h" style="left:607.00px;top:36.00px;width:26.00px;height:52.00px;line-height:52.00px;">14</div>
<div class="t h" style="left:633.00px;top:36.00px;width:26.00px;height:52.00px;line-height:52.00px;">15</div>
<div class="t h" style="left:659.00px;top:36.00px;width:26.00px;height:52.00px;line-height:52.00px;">16</div>
<div class="t h" style="left:685.00px;top:36.00px;width:27.00px;height:52.00px;line-height:52.00px;">17</div>
<div class="t h" style="left:712.00px;top:36.00px;width:26.00px;height:52.00px;line-height:52.00px;">18</div>
<div class="t h" style="left:738.00px;top:36.00px;width:26.00px;height:52.00px;line-height:52.00px;">19</div>
<div class="t h" style="left:764.00px;top:36.00px;width:27.00px;height:52.00px;line-height:52.00px;">20</div>
<div class="t h" style="left:791.00px;top:36.00px;width:26.00px;height:52.00px;line-height:52.00px;">21</div>
<div class="t h" style="left:817.00px;top:36.00px;width:26.00px;height:52.00px;line-height:52.00px;">22</div>
<div class="t h" style="left:843.00px;top:36.00px;width:26.00px;height:52.00px;line-height:52.00px;">23</div>
<div class="t h" style="left:869.00px;top:36.00px;width:27.00px;height:52.00px;line-height:52.00px;">24</div>
<div class="t h" style="left:896.00px;top:36.00px;width:26.00px;height:52.00px;line-height:52.00px;">25</div>
<div class="t h" style="left:922.00px;top:36.00px;width:26.00px;height:52.00px;line-height:52.00px;">26</div>
<div class="t h" style="left:948.00px;top:36.00px;width:27.00px;height:52.00px;line-height:52.00px;">27</div>
<div class="t h" style="left:975.00px;top:36.00px;width:26.00px;height:52.00px;line-height:52.00px;">28</div>
<div class="t h" style="left:1001.00px;top:36.00px;width:26.00px;height:52.00px;line-height:52.00px;">29</div>
<div class="t h" style="left:1027.00px;top:36.00px;width:26.00px;height:52.00px;line-height:52.00px;">30</div>
<div class="t h hc two" style="left:1053px;top:37px;width:25px;height:51px;">重<br>号</div>
<div class="t h hc two" style="left:1078px;top:37px;width:25px;height:51px;">连<br>号</div>
<div class="t h hc" style="left:1103.00px;top:36.00px;width:36.00px;height:52.00px;line-height:52.00px;">和值</div>
<div class="t h hc two" style="left:1139px;top:37px;width:36px;height:51px;">奇偶<br>比例</div>
<div class="t h hc two" style="left:1175px;top:37px;width:48px;height:51px;">三区<br>比例</div>
<div class="t " style="left:0.00px;top:88.00px;width:55.00px;height:25.00px;line-height:25.00px;">21128</div>
<div class="t " style="left:56.00px;top:88.00px;width:25.00px;height:25.00px;line-height:25.00px;">18</div>
<div class="t " style="left:82.00px;top:88.00px;width:25.00px;height:25.00px;line-height:25.00px;">08</div>
<div class="t " style="left:108.00px;top:88.00px;width:26.00px;height:25.00px;line-height:25.00px;">04</div>
<div class="t red" style="left:135.00px;top:88.00px;width:25.00px;height:25.00px;line-height:25.00px;">11</div>
<div class="t " style="left:161.00px;top:88.00px;width:25.00px;height:25.00px;line-height:25.00px;">14</div>
<div class="t red" style="left:187.00px;top:88.00px;width:25.00px;height:25.00px;line-height:25.00px;">15</div>
<div class="t " style="left:213.00px;top:88.00px;width:26.00px;height:25.00px;line-height:25.00px;">26</div>
<div class="t " style="left:240.00px;top:88.00px;width:25.00px;height:25.00px;line-height:25.00px;">16</div>
<div class="t " style="left:713.00px;top:88.00px;width:25.00px;height:25.00px;line-height:25.00px;">18</div>
<div class="t " style="left:450.00px;top:88.00px;width:25.00px;height:25.00px;line-height:25.00px;">08</div>
<div class="t " style="left:345.00px;top:88.00px;width:25.00px;height:25.00px;line-height:25.00px;">04</div>
<div class="t " style="left:529.00px;top:88.00px;width:25.00px;height:25.00px;line-height:25.00px;">11</div>
<div class="t " style="left:608.00px;top:88.00px;width:25.00px;height:25.00px;line-height:25.00px;">14</div>
<div class="t " style="left:634.00px;top:88.00px;width:25.00px;height:25.00px;line-height:25.00px;">15</div>
<div class="t " style="left:923.00px;top:88.00px;width:25.00px;height:25.00px;line-height:25.00px;">26</div>
<div class="t red" style="left:660.00px;top:88.00px;width:25.00px;height:25.00px;line-height:25.00px;">16</div>
<div class="t " style="left:1054.00px;top:88.00px;width:24.00px;height:25.00px;line-height:25.00px;">0</div>
<div class="t " style="left:1079.00px;top:88.00px;width:24.00px;height:25.00px;line-height:25.00px;">3</div>
<div class="t " style="left:1104.00px;top:88.00px;width:35.00px;height:25.00px;line-height:25.00px;">112</div>
<div class="t " style="left:1140.00px;top:88.00px;width:35.00px;height:25.00px;line-height:25.00px;">2:6</div>
<div class="t " style="left:1176.00px;top:88.00px;width:47.00px;height:25.00px;line-height:25.00px;">2:5:1</div>
<div class="t " style="left:0.00px;top:114.00px;width:55.00px;height:25.00px;line-height:25.00px;">21129</div>
<div class="t red" style="left:56.00px;top:114.00px;width:25.00px;height:25.00px;line-height:25.00px;">07</div>
<div class="t " style="left:82.00px;top:114.00px;width:25.00px;height:25.00px;line-height:25.00px;">14</div>
<div class="t " style="left:108.00px;top:114.00px;width:26.00px;height:25.00px;line-height:25.00px;">20</div>
<div class="t red" style="left:135.00px;top:114.00px;width:25.00px;height:25.00px;line-height:25.00px;">19</div>
<div class="t red" style="left:161.00px;top:114.00px;width:25.00px;height:25.00px;line-height:25.00px;">13</div>
<div class="t " style="left:187.00px;top:114.00px;width:25.00px;height:25.00px;line-height:25.00px;">26</div>
<div class="t " style="left:213.00px;top:114.00px;width:26.00px;height:25.00px;line-height:25.00px;">18</div>
<div class="t " style="left:240.00px;top:114.00px;width:25.00px;height:25.00px;line-height:25.00px;">06</div>
<div class="t " style="left:424.00px;top:114.00px;width:25.00px;height:25.00px;line-height:25.00px;">07</div>
<div class="t " style="left:608.00px;top:114.00px;width:25.00px;height:25.00px;line-height:25.00px;">14</div>
<div class="t " style="left:765.00px;top:114.00px;width:26.00px;height:25.00px;line-height:25.00px;">20</div>
<div class="t " style="left:739.00px;top:114.00px;width:25.00px;height:25.00px;line-height:25.00px;">19</div>
<div class="t " style="left:581.00px;top:114.00px;width:26.00px;height:25.00px;line-height:25.00px;">13</div>
<div class="t " style="left:923.00px;top:114.00px;width:25.00px;height:25.00px;line-height:25.00px;">26</div>
<div class="t " style="left:713.00px;top:114.00px;width:25.00px;height:25.00px;line-height:25.00px;">18</div>
<div class="t red" style="left:397.00px;top:114.00px;width:26.00px;height:25.00px;line-height:25.00px;">06</div>
<div class="t " style="left:1054.00px;top:114.00px;width:24.00px;height:25.00px;line-height:25.00px;">3</div>
<div class="t " style="left:1079.00px;top:114.00px;width:24.00px;height:25.00px;line-height:25.00px;">7</div>
<div class="t " style="left:1104.00px;top:114.00px;width:35.00px;height:25.00px;line-height:25.00px;">123</div>
<div class="t " style="left:1140.00px;top:114.00px;width:35.00px;height:25.00px;line-height:25.00px;">3:5</div>
<div class="t " style="left:1176.00px;top:114.00px;width:47.00px;height:25.00px;line-height:25.00px;">2:5:1</div>
<div class="t " style="left:0.00px;top:141.00px;width:55.00px;height:25.00px;line-height:25.00px;">21130</div>
<div class="t " style="left:56.00px;top:141.00px;width:25.00px;height:25.00px;line-height:25.00px;">22</div>
<div class="t red" style="left:82.00px;top:141.00px;width:25.00px;height:25.00px;line-height:25.00px;">09</div>
<div class="t " style="left:108.00px;top:141.00px;width:26.00px;height:25.00px;line-height:25.00px;">04</div>
<div class="t " style="left:135.00px;top:141.00px;width:25.00px;height:25.00px;line-height:25.00px;">02</div>
<div class="t red" style="left:161.00px;top:141.00px;width:25.00px;height:25.00px;line-height:25.00px;">21</div>
<div class="t red" style="left:187.00px;top:141.00px;width:25.00px;height:25.00px;line-height:25.00px;">29</div>
<div class="t red" style="left:213.00px;top:141.00px;width:26.00px;height:25.00px;line-height:25.00px;">15</div>
<div class="t red" style="left:240.00px;top:141.00px;width:25.00px;height:25.00px;line-height:25.00px;">03</div>
<div class="t " style="left:818.00px;top:141.00px;width:25.00px;height:25.00px;line-height:25.00px;">22</div>
<div class="t " style="left:476.00px;top:141.00px;width:26.00px;height:25.00px;line-height:25.00px;">09</div>
<div class="t " style="left:345.00px;top:141.00px;width:25.00px;height:25.00px;line-height:25.00px;">04</div>
<div class="t " style="left:292.00px;top:141.00px;width:26.00px;height:25.00px;line-height:25.00px;">02</div>
<div class="t " style="left:792.00px;top:141.00px;width:25.00px;height:25.00px;line-height:25.00px;">21</div>
<div class="t " style="left:1002.00px;top:141.00px;width:25.00px;height:25.00px;line-height:25.00px;">29</div>
<div class="t " style="left:634.00px;top:141.00px;width:25.00px;height:25.00px;line-height:25.00px;">15</div>
<div class="t red" style="left:319.00px;top:141.00px;width:25.00px;height:25.00px;line-height:25.00px;">03</div>
<div class="t " style="left:1054.00px;top:141.00px;width:24.00px;height:25.00px;line-height:25.00px;">0</div>
<div class="t " style="left:1079.00px;top:141.00px;width:24.00px;height:25.00px;line-height:25.00px;">5</div>
<div class="t " style="left:1104.00px;top:141.00px;width:35.00px;height:25.00px;line-height:25.00px;">105</div>
<div class="t " style="left:1140.00px;top:141.00px;width:35.00px;height:25.00px;line-height:25.00px;">5:3</div>
<div class="t " style="left:1176.00px;top:141.00px;width:47.00px;height:25.00px;line-height:25.00px;">4:1:3</div>
<div class="t " style="left:0.00px;top:167.00px;width:55.00px;height:26.00px;line-height:26.00px;">21131</div>
<div class="t " style="left:56.00px;top:167.00px;width:25.00px;height:26.00px;line-height:26.00px;">02</div>
<div class="t red" style="left:82.00px;top:167.00px;width:25.00px;height:26.00px;line-height:26.00px;">25</div>
<div class="t red" style="left:108.00px;top:167.00px;width:26.00px;height:26.00px;line-height:26.00px;">21</div>
<div class="t " style="left:135.00px;top:167.00px;width:25.00px;height:26.00px;line-height:26.00px;">30</div>
<div class="t " style="left:161.00px;top:167.00px;width:25.00px;height:26.00px;line-height:26.00px;">26</div>
<div class="t " style="left:187.00px;top:167.00px;width:25.00px;height:26.00px;line-height:26.00px;">10</div>
<div class="t " style="left:213.00px;top:167.00px;width:26.00px;height:26.00px;line-height:26.00px;">16</div>
<div class="t red" style="left:240.00px;top:167.00px;width:25.00px;height:26.00px;line-height:26.00px;">11</div>
<div class="t " style="left:292.00px;top:167.00px;width:26.00px;height:26.00px;line-height:26.00px;">02</div>
<div class="t " style="left:897.00px;top:167.00px;width:25.00px;height:26.00px;line-height:26.00px;">25</div>
<div class="t " style="left:792.00px;top:167.00px;width:25.00px;height:26.00px;line-height:26.00px;">21</div>
<div class="t " style="left:1028.00px;top:167.00px;width:25.00px;height:26.00px;line-height:26.00px;">30</div>
<div class="t " style="left:923.00px;top:167.00px;width:25.00px;height:26.00px;line-height:26.00px;">26</div>
<div class="t " style="left:503.00px;top:167.00px;width:25.00px;height:26.00px;line-height:26.00px;">10</div>
<div class="t " style="left:660.00px;top:167.00px;width:25.00px;height:26.00px;line-height:26.00px;">16</div>
<div class="t red" style="left:529.00px;top:167.00px;width:25.00px;height:26.00px;line-height:26.00px;">11</div>
<div class="t " style="left:1054.00px;top:167.00px;width:24.00px;height:26.00px;line-height:26.00px;">2</div>
<div class="t " style="left:1079.00px;top:167.00px;width:24.00px;height:26.00px;line-height:26.00px;">4</div>
<div class="t " style="left:1104.00px;top:167.00px;width:35.00px;height:26.00px;line-height:26.00px;">141</div>
<div class="t " style="left:1140.00px;top:167.00px;width:35.00px;height:26.00px;line-height:26.00px;">3:5</div>
<div class="t " style="left:1176.00px;top:167.00px;width:47.00px;height:26.00px;line-height:26.00px;">2:2:4</div>
<div class="t " style="left:0.00px;top:193.00px;width:55.00px;height:25.00px;line-height:25.00px;">21132</div>
<div class="t " style="left:56.00px;top:193.00px;width:25.00px;height:25.00px;line-height:25.00px;">12</div>
<div class="t " style="left:82.00px;top:193.00px;width:25.00px;height:25.00px;line-height:25.00px;">16</div>
<div class="t red" style="left:108.00px;top:193.00px;width:26.00px;height:25.00px;line-height:25.00px;">21</div>
<div class="t red" style="left:135.00px;top:193.00px;width:25.00px;height:25.00px;line-height:25.00px;">09</div>
<div class="t red" style="left:161.00px;top:193.00px;width:25.00px;height:25.00px;line-height:25.00px;">03</div>
<div class="t " style="left:187.00px;top:193.00px;width:25.00px;height:25.00px;line-height:25.00px;">04</div>
<div class="t " style="left:213.00px;top:193.00px;width:26.00px;height:25.00px;line-height:25.00px;">20</div>
<div class="t " style="left:240.00px;top:193.00px;width:25.00px;height:25.00px;line-height:25.00px;">22</div>
<div class="t " style="left:555.00px;top:193.00px;width:25.00px;height:25.00px;line-height:25.00px;">12</div>
<div class="t " style="left:660.00px;top:193.00px;width:25.00px;height:25.00px;line-height:25.00px;">16</div>
<div class="t " style="left:792.00px;top:193.00px;width:25.00px;height:25.00px;line-height:25.00px;">21</div>
<div class="t " style="left:476.00px;top:193.00px;width:26.00px;height:25.00px;line-height:25.00px;">09</div>
<div class="t " style="left:319.00px;top:193.00px;width:25.00px;height:25.00px;line-height:25.00px;">03</div>
<div class="t " style="left:345.00px;top:193.00px;width:25.00px;height:25.00px;line-height:25.00px;">04</div>
<div class="t " style="left:765.00px;top:193.00px;width:26.00px;height:25.00px;line-height:25.00px;">20</div>
<div class="t red" style="left:818.00px;top:193.00px;width:25.00px;height:25.00px;line-height:25.00px;">22</div>
<div class="t " style="left:1054.00px;top:193.00px;width:24.00px;height:25.00px;line-height:25.00px;">2</div>
<div class="t " style="left:1079.00px;top:193.00px;width:24.00px;height:25.00px;line-height:25.00px;">5</div>
<div class="t " style="left:1104.00px;top:193.00px;width:35.00px;height:25.00px;line-height:25.00px;">107</div>
<div class="t " style="left:1140.00px;top:193.00px;width:35.00px;height:25.00px;line-height:25.00px;">3:5</div>
<div class="t " style="left:1176.00px;top:193.00px;width:47.00px;height:25.00px;line-height:25.00px;">3:3:2</div>
<div class="t " style="left:0.00px;top:219.00px;width:55.00px;height:25.00px;line-height:25.00px;">21133</div>
<div class="t red" style="left:56.00px;top:219.00px;width:25.00px;height:25.00px;line-height:25.00px;">07</div>
<div class="t red" style="left:82.00px;top:219.00px;width:25.00px;height:25.00px;line-height:25.00px;">05</div>
<div class="t red" style="left:108.00px;top:219.00px;width:26.00px;height:25.00px;line-height:25.00px;">15</div>
<div class="t " style="left:135.00px;top:219.00px;width:25.00px;height:25.00px;line-height:25.00px;">10</div>
<div class="t " style="left:161.00px;top:219.00px;width:25.00px;height:25.00px;line-height:25.00px;">30</div>
<div class="t " style="left:187.00px;top:219.00px;width:25.00px;height:25.00px;line-height:25.00px;">02</div>
<div class="t red" style="left:213.00px;top:219.00px;width:26.00px;height:25.00px;line-height:25.00px;">09</div>
<div class="t " style="left:240.00px;top:219.00px;width:25.00px;height:25.00px;line-height:25.00px;">14</div>
<div class="t " style="left:424.00px;top:219.00px;width:25.00px;height:25.00px;line-height:25.00px;">07</div>
<div class="t " style="left:371.00px;top:219.00px;width:25.00px;height:25.00px;line-height:25.00px;">05</div>
<div class="t " style="left:634.00px;top:219.00px;width:25.00px;height:25.00px;line-height:25.00px;">15</div>
<div class="t " style="left:503.00px;top:219.00px;width:25.00px;height:25.00px;line-height:25.00px;">10</div>
<div class="t " style="left:1028.00px;top:219.00px;width:25.00px;height:25.00px;line-height:25.00px;">30</div>
<div class="t " style="left:292.00px;top:219.00px;width:26.00px;height:25.00px;line-height:25.00px;">02</div>
<div class="t " style="left:476.00px;top:219.00px;width:26.00px;height:25.00px;line-height:25.00px;">09</div>
<div class="t red" style="left:608.00px;top:219.00px;width:25.00px;height:25.00px;line-height:25.00px;">14</div>
<div class="t " style="left:1054.00px;top:219.00px;width:24.00px;height:25.00px;line-height:25.00px;">1</div>
<div class="t " style="left:1079.00px;top:219.00px;width:24.00px;height:25.00px;line-height:25.00px;">4</div>
<div class="t " style="left:1104.00px;top:219.00px;width:35.00px;height:25.00px;line-height:25.00px;">&nbsp;92</div>
<div class="t " style="left:1140.00px;top:219.00px;width:35.00px;height:25.00px;line-height:25.00px;">4:4</div>
<div class="t " style="left:1176.00px;top:219.00px;width:47.00px;height:25.00px;line-height:25.00px;">5:2:1</div>
<div class="t " style="left:0.00px;top:246.00px;width:55.00px;height:25.00px;line-height:25.00px;">21134</div>
<div class="t red" style="left:56.00px;top:246.00px;width:25.00px;height:25.00px;line-height:25.00px;">25</div>
<div class="t red" style="left:82.00px;top:246.00px;width:25.00px;height:25.00px;line-height:25.00px;">21</div>
<div class="t red" style="left:108.00px;top:246.00px;width:26.00px;height:25.00px;line-height:25.00px;">05</div>
<div class="t " style="left:135.00px;top:246.00px;width:25.00px;height:25.00px;line-height:25.00px;">04</div>
<div class="t red" style="left:161.00px;top:246.00px;width:25.00px;height:25.00px;line-height:25.00px;">13</div>
<div class="t " style="left:187.00px;top:246.00px;width:25.00px;height:25.00px;line-height:25.00px;">22</div>
<div class="t " style="left:213.00px;top:246.00px;width:26.00px;height:25.00px;line-height:25.00px;">10</div>
<div class="t " style="left:240.00px;top:246.00px;width:25.00px;height:25.00px;line-height:25.00px;">28</div>
<div class="t " style="left:897.00px;top:246.00px;width:25.00px;height:25.00px;line-height:25.00px;">25</div>
<div class="t " style="left:792.00px;top:246.00px;width:25.00px;height:25.00px;line-height:25.00px;">21</div>
<div class="t " style="left:371.00px;top:246.00px;width:25.00px;height:25.00px;line-height:25.00px;">05</div>
<div class="t " style="left:345.00px;top:246.00px;width:25.00px;height:25.00px;line-height:25.00px;">04</div>
<div class="t " style="left:581.00px;top:246.00px;width:26.00px;height:25.00px;line-height:25.00px;">13</div>
<div class="t " style="left:818.00px;top:246.00px;width:25.00px;height:25.00px;line-height:25.00px;">22</div>
<div class="t " style="left:503.00px;top:246.00px;width:25.00px;height:25.00px;line-height:25.00px;">10</div>
<div class="t red" style="left:976.00px;top:246.00px;width:25.00px;height:25.00px;line-height:25.00px;">28</div>
<div class="t " style="left:1054.00px;top:246.00px;width:24.00px;height:25.00px;line-height:25.00px;">2</div>
<div class="t " style="left:1079.00px;top:246.00px;width:24.00px;height:25.00px;line-height:25.00px;">4</div>
<div class="t " style="left:1104.00px;top:246.00px;width:35.00px;height:25.00px;line-height:25.00px;">128</div>
<div class="t " style="left:1140.00px;top:246.00px;width:35.00px;height:25.00px;line-height:25.00px;">4:4</div>
<div class="t " style="left:1176.00px;top:246.00px;width:47.00px;height:25.00px;line-height:25.00px;">3:1:4</div>
<div class="t " style="left:0.00px;top:272.00px;width:55.00px;height:26.00px;line-height:26.00px;">21135</div>
<div class="t red" style="left:56.00px;top:272.00px;width:25.00px;height:26.00px;line-height:26.00px;">13</div>
<div class="t " style="left:82.00px;top:272.00px;width:25.00px;height:26.00px;line-height:26.00px;">26</div>
<div class="t red" style="left:108.00px;top:272.00px;width:26.00px;height:26.00px;line-height:26.00px;">25</div>
<div class="t red" style="left:135.00px;top:272.00px;width:25.00px;height:26.00px;line-height:26.00px;">21</div>
<div class="t " style="left:161.00px;top:272.00px;width:25.00px;height:26.00px;line-height:26.00px;">10</div>
<div class="t " style="left:187.00px;top:272.00px;width:25.00px;height:26.00px;line-height:26.00px;">08</div>
<div class="t " style="left:213.00px;top:272.00px;width:26.00px;height:26.00px;line-height:26.00px;">30</div>
<div class="t red" style="left:240.00px;top:272.00px;width:25.00px;height:26.00px;line-height:26.00px;">09</div>
<div class="t " style="left:581.00px;top:272.00px;width:26.00px;height:26.00px;line-height:26.00px;">13</div>
<div class="t " style="left:923.00px;top:272.00px;width:25.00px;height:26.00px;line-height:26.00px;">26</div>
<div class="t " style="left:897.00px;top:272.00px;width:25.00px;height:26.00px;line-height:26.00px;">25</div>
<div class="t " style="left:792.00px;top:272.00px;width:25.00px;height:26.00px;line-height:26.00px;">21</div>
<div class="t " style="left:503.00px;top:272.00px;width:25.00px;height:26.00px;line-height:26.00px;">10</div>
<div class="t " style="left:450.00px;top:272.00px;width:25.00px;height:26.00px;line-height:26.00px;">08</div>
<div class="t " style="left:1028.00px;top:272.00px;width:25.00px;height:26.00px;line-height:26.00px;">30</div>
<div class="t red" style="left:476.00px;top:272.00px;width:26.00px;height:26.00px;line-height:26.00px;">09</div>
<div class="t " style="left:1054.00px;top:272.00px;width:24.00px;height:26.00px;line-height:26.00px;">4</div>
<div class="t " style="left:1079.00px;top:272.00px;width:24.00px;height:26.00px;line-height:26.00px;">5</div>
<div class="t " style="left:1104.00px;top:272.00px;width:35.00px;height:26.00px;line-height:26.00px;">142</div>
<div class="t " style="left:1140.00px;top:272.00px;width:35.00px;height:26.00px;line-height:26.00px;">4:4</div>
<div class="t " style="left:1176.00px;top:272.00px;width:47.00px;height:26.00px;line-height:26.00px;">3:1:4</div>
<div class="t " style="left:0.00px;top:298.00px;width:55.00px;height:25.00px;line-height:25.00px;">21136</div>
<div class="t " style="left:56.00px;top:298.00px;width:25.00px;height:25.00px;line-height:25.00px;">16</div>
<div class="t red" style="left:82.00px;top:298.00px;width:25.00px;height:25.00px;line-height:25.00px;">05</div>
<div class="t red" style="left:108.00px;top:298.00px;width:26.00px;height:25.00px;line-height:25.00px;">07</div>
<div class="t " style="left:135.00px;top:298.00px;width:25.00px;height:25.00px;line-height:25.00px;">04</div>
<div class="t red" style="left:161.00px;top:298.00px;width:25.00px;height:25.00px;line-height:25.00px;">27</div>
<div class="t red" style="left:187.00px;top:298.00px;width:25.00px;height:25.00px;line-height:25.00px;">21</div>
<div class="t " style="left:213.00px;top:298.00px;width:26.00px;height:25.00px;line-height:25.00px;">24</div>
<div class="t " style="left:240.00px;top:298.00px;width:25.00px;height:25.00px;line-height:25.00px;">30</div>
<div class="t " style="left:660.00px;top:298.00px;width:25.00px;height:25.00px;line-height:25.00px;">16</div>
<div class="t " style="left:371.00px;top:298.00px;width:25.00px;height:25.00px;line-height:25.00px;">05</div>
<div class="t " style="left:424.00px;top:298.00px;width:25.00px;height:25.00px;line-height:25.00px;">07</div>
<div class="t " style="left:345.00px;top:298.00px;width:25.00px;height:25.00px;line-height:25.00px;">04</div>
<div class="t " style="left:949.00px;top:298.00px;width:26.00px;height:25.00px;line-height:25.00px;">27</div>
<div class="t " style="left:792.00px;top:298.00px;width:25.00px;height:25.00px;line-height:25.00px;">21</div>
<div class="t " style="left:870.00px;top:298.00px;width:26.00px;height:25.00px;line-height:25.00px;">24</div>
<div class="t red" style="left:1028.00px;top:298.00px;width:25.00px;height:25.00px;line-height:25.00px;">30</div>
<div class="t " style="left:1054.00px;top:298.00px;width:24.00px;height:25.00px;line-height:25.00px;">2</div>
<div class="t " style="left:1079.00px;top:298.00px;width:24.00px;height:25.00px;line-height:25.00px;">2</div>
<div class="t " style="left:1104.00px;top:298.00px;width:35.00px;height:25.00px;line-height:25.00px;">134</div>
<div class="t " style="left:1140.00px;top:298.00px;width:35.00px;height:25.00px;line-height:25.00px;">4:4</div>
<div class="t " style="left:1176.00px;top:298.00px;width:47.00px;height:25.00px;line-height:25.00px;">3:1:4</div>
<div class="t " style="left:0.00px;top:324.00px;width:55.00px;height:25.00px;line-height:25.00px;">21137</div>
<div class="t red" style="left:56.00px;top:324.00px;width:25.00px;height:25.00px;line-height:25.00px;">19</div>
<div class="t " style="left:82.00px;top:324.00px;width:25.00px;height:25.00px;line-height:25.00px;">30</div>
<div class="t red" style="left:108.00px;top:324.00px;width:26.00px;height:25.00px;line-height:25.00px;">01</div>
<div class="t " style="left:135.00px;top:324.00px;width:25.00px;height:25.00px;line-height:25.00px;">08</div>
<div class="t red" style="left:161.00px;top:324.00px;width:25.00px;height:25.00px;line-height:25.00px;">05</div>
<div class="t " style="left:187.00px;top:324.00px;width:25.00px;height:25.00px;line-height:25.00px;">14</div>
<div class="t red" style="left:213.00px;top:324.00px;width:26.00px;height:25.00px;line-height:25.00px;">25</div>
<div class="t " style="left:240.00px;top:324.00px;width:25.00px;height:25.00px;line-height:25.00px;">22</div>
<div class="t " style="left:739.00px;top:324.00px;width:25.00px;height:25.00px;line-height:25.00px;">19</div>
<div class="t " style="left:1028.00px;top:324.00px;width:25.00px;height:25.00px;line-height:25.00px;">30</div>
<div class="t " style="left:266.00px;top:324.00px;width:25.00px;height:25.00px;line-height:25.00px;">01</div>
<div class="t " style="left:450.00px;top:324.00px;width:25.00px;height:25.00px;line-height:25.00px;">08</div>
<div class="t " style="left:371.00px;top:324.00px;width:25.00px;height:25.00px;line-height:25.00px;">05</div>
<div class="t " style="left:608.00px;top:324.00px;width:25.00px;height:25.00px;line-height:25.00px;">14</div>
<div class="t " style="left:897.00px;top:324.00px;width:25.00px;height:25.00px;line-height:25.00px;">25</div>
<div class="t red" style="left:818.00px;top:324.00px;width:25.00px;height:25.00px;line-height:25.00px;">22</div>
<div class="t " style="left:1054.00px;top:324.00px;width:24.00px;height:25.00px;line-height:25.00px;">2</div>
<div class="t " style="left:1079.00px;top:324.00px;width:24.00px;height:25.00px;line-height:25.00px;">0</div>
<div class="t " style="left:1104.00px;top:324.00px;width:35.00px;height:25.00px;line-height:25.00px;">124</div>
<div class="t " style="left:1140.00px;top:324.00px;width:35.00px;height:25.00px;line-height:25.00px;">4:4</div>
<div class="t " style="left:1176.00px;top:324.00px;width:47.00px;height:25.00px;line-height:25.00px;">3:2:3</div>
<div class="t " style="left:0.00px;top:351.00px;width:55.00px;height:25.00px;line-height:25.00px;">21138</div>
<div class="t red" style="left:56.00px;top:351.00px;width:25.00px;height:25.00px;line-height:25.00px;">03</div>
<div class="t " style="left:82.00px;top:351.00px;width:25.00px;height:25.00px;line-height:25.00px;">24</div>
<div class="t " style="left:108.00px;top:351.00px;width:26.00px;height:25.00px;line-height:25.00px;">06</div>
<div class="t red" style="left:135.00px;top:351.00px;width:25.00px;height:25.00px;line-height:25.00px;">13</div>
<div class="t red" style="left:161.00px;top:351.00px;width:25.00px;height:25.00px;line-height:25.00px;">23</div>
<div class="t red" style="left:187.00px;top:351.00px;width:25.00px;height:25.00px;line-height:25.00px;">07</div>
<div class="t " style="left:213.00px;top:351.00px;width:26.00px;height:25.00px;line-height:25.00px;">08</div>
<div class="t " style="left:240.00px;top:351.00px;width:25.00px;height:25.00px;line-height:25.00px;">16</div>
<div class="t " style="left:319.00px;top:351.00px;width:25.00px;height:25.00px;line-height:25.00px;">03</div>
<div class="t " style="left:870.00px;top:351.00px;width:26.00px;height:25.00px;line-height:25.00px;">24</div>
<div class="t " style="left:397.00px;top:351.00px;width:26.00px;height:25.00px;line-height:25.00px;">06</div>
<div class="t " style="left:581.00px;top:351.00px;width:26.00px;height:25.00px;line-height:25.00px;">13</div>
<div class="t " style="left:844.00px;top:351.00px;width:25.00px;height:25.00px;line-height:25.00px;">23</div>
<div class="t " style="left:424.00px;top:351.00px;width:25.00px;height:25.00px;line-height:25.00px;">07</div>
<div class="t " style="left:450.00px;top:351.00px;width:25.00px;height:25.00px;line-height:25.00px;">08</div>
<div class="t red" style="left:660.00px;top:351.00px;width:25.00px;height:25.00px;line-height:25.00px;">16</div>
<div class="t " style="left:1054.00px;top:351.00px;width:24.00px;height:25.00px;line-height:25.00px;">1</div>
<div class="t " style="left:1079.00px;top:351.00px;width:24.00px;height:25.00px;line-height:25.00px;">5</div>
<div class="t " style="left:1104.00px;top:351.00px;width:35.00px;height:25.00px;line-height:25.00px;">100</div>
<div class="t " style="left:1140.00px;top:351.00px;width:35.00px;height:25.00px;line-height:25.00px;">4:4</div>
<div class="t " style="left:1176.00px;top:351.00px;width:47.00px;height:25.00px;line-height:25.00px;">4:2:2</div>
<div class="t " style="left:0.00px;top:377.00px;width:55.00px;height:26.00px;line-height:26.00px;">21139</div>
<div class="t " style="left:56.00px;top:377.00px;width:25.00px;height:26.00px;line-height:26.00px;">22</div>
<div class="t red" style="left:82.00px;top:377.00px;width:25.00px;height:26.00px;line-height:26.00px;">25</div>
<div class="t red" style="left:108.00px;top:377.00px;width:26.00px;height:26.00px;line-height:26.00px;">01</div>
<div class="t " style="left:135.00px;top:377.00px;width:25.00px;height:26.00px;line-height:26.00px;">16</div>
<div class="t red" style="left:161.00px;top:377.00px;width:25.00px;height:26.00px;line-height:26.00px;">19</div>
<div class="t red" style="left:187.00px;top:377.00px;width:25.00px;height:26.00px;line-height:26.00px;">13</div>
<div class="t " style="left:213.00px;top:377.00px;width:26.00px;height:26.00px;line-height:26.00px;">12</div>
<div class="t " style="left:240.00px;top:377.00px;width:25.00px;height:26.00px;line-height:26.00px;">24</div>
<div class="t " style="left:818.00px;top:377.00px;width:25.00px;height:26.00px;line-height:26.00px;">22</div>
<div class="t " style="left:897.00px;top:377.00px;width:25.00px;height:26.00px;line-height:26.00px;">25</div>
<div class="t " style="left:266.00px;top:377.00px;width:25.00px;height:26.00px;line-height:26.00px;">01</div>
<div class="t " style="left:660.00px;top:377.00px;width:25.00px;height:26.00px;line-height:26.00px;">16</div>
<div class="t " style="left:739.00px;top:377.00px;width:25.00px;height:26.00px;line-height:26.00px;">19</div>
<div class="t " style="left:581.00px;top:377.00px;width:26.00px;height:26.00px;line-height:26.00px;">13</div>
<div class="t " style="left:555.00px;top:377.00px;width:25.00px;height:26.00px;line-height:26.00px;">12</div>
<div class="t red" style="left:870.00px;top:377.00px;width:26.00px;height:26.00px;line-height:26.00px;">24</div>
<div class="t " style="left:1054.00px;top:377.00px;width:24.00px;height:26.00px;line-height:26.00px;">3</div>
<div class="t " style="left:1079.00px;top:377.00px;width:24.00px;height:26.00px;line-height:26.00px;">4</div>
<div class="t " style="left:1104.00px;top:377.00px;width:35.00px;height:26.00px;line-height:26.00px;">132</div>
<div class="t " style="left:1140.00px;top:377.00px;width:35.00px;height:26.00px;line-height:26.00px;">4:4</div>
<div class="t " style="left:1176.00px;top:377.00px;width:47.00px;height:26.00px;line-height:26.00px;">1:4:3</div>
<div class="t " style="left:0.00px;top:403.00px;width:55.00px;height:25.00px;line-height:25.00px;">21140</div>
<div class="t red" style="left:56.00px;top:403.00px;width:25.00px;height:25.00px;line-height:25.00px;">11</div>
<div class="t red" style="left:82.00px;top:403.00px;width:25.00px;height:25.00px;line-height:25.00px;">27</div>
<div class="t " style="left:108.00px;top:403.00px;width:26.00px;height:25.00px;line-height:25.00px;">16</div>
<div class="t " style="left:135.00px;top:403.00px;width:25.00px;height:25.00px;line-height:25.00px;">14</div>
<div class="t " style="left:161.00px;top:403.00px;width:25.00px;height:25.00px;line-height:25.00px;">24</div>
<div class="t " style="left:187.00px;top:403.00px;width:25.00px;height:25.00px;line-height:25.00px;">12</div>
<div class="t " style="left:213.00px;top:403.00px;width:26.00px;height:25.00px;line-height:25.00px;">26</div>
<div class="t red" style="left:240.00px;top:403.00px;width:25.00px;height:25.00px;line-height:25.00px;">09</div>
<div class="t " style="left:529.00px;top:403.00px;width:25.00px;height:25.00px;line-height:25.00px;">11</div>
<div class="t " style="left:949.00px;top:403.00px;width:26.00px;height:25.00px;line-height:25.00px;">27</div>
<div class="t " style="left:660.00px;top:403.00px;width:25.00px;height:25.00px;line-height:25.00px;">16</div>
<div class="t " style="left:608.00px;top:403.00px;width:25.00px;height:25.00px;line-height:25.00px;">14</div>
<div class="t " style="left:870.00px;top:403.00px;width:26.00px;height:25.00px;line-height:25.00px;">24</div>
<div class="t " style="left:555.00px;top:403.00px;width:25.00px;height:25.00px;line-height:25.00px;">12</div>
<div class="t " style="left:923.00px;top:403.00px;width:25.00px;height:25.00px;line-height:25.00px;">26</div>
<div class="t red" style="left:476.00px;top:403.00px;width:26.00px;height:25.00px;line-height:25.00px;">09</div>
<div class="t " style="left:1054.00px;top:403.00px;width:24.00px;height:25.00px;line-height:25.00px;">3</div>
<div class="t " style="left:1079.00px;top:403.00px;width:24.00px;height:25.00px;line-height:25.00px;">4</div>
<div class="t " style="left:1104.00px;top:403.00px;width:35.00px;height:25.00px;line-height:25.00px;">139</div>
<div class="t " style="left:1140.00px;top:403.00px;width:35.00px;height:25.00px;line-height:25.00px;">3:5</div>
<div class="t " style="left:1176.00px;top:403.00px;width:47.00px;height:25.00px;line-height:25.00px;">1:4:3</div>
<div class="t " style="left:0.00px;top:429.00px;width:55.00px;height:25.00px;line-height:25.00px;">21141</div>
<div class="t " style="left:56.00px;top:429.00px;width:25.00px;height:25.00px;line-height:25.00px;">12</div>
<div class="t red" style="left:82.00px;top:429.00px;width:25.00px;height:25.00px;line-height:25.00px;">17</div>
<div class="t " style="left:108.00px;top:429.00px;width:26.00px;height:25.00px;line-height:25.00px;">18</div>
<div class="t red" style="left:135.00px;top:429.00px;width:25.00px;height:25.00px;line-height:25.00px;">29</div>
<div class="t red" style="left:161.00px;top:429.00px;width:25.00px;height:25.00px;line-height:25.00px;">27</div>
<div class="t red" style="left:187.00px;top:429.00px;width:25.00px;height:25.00px;line-height:25.00px;">05</div>
<div class="t red" style="left:213.00px;top:429.00px;width:26.00px;height:25.00px;line-height:25.00px;">19</div>
<div class="t red" style="left:240.00px;top:429.00px;width:25.00px;height:25.00px;line-height:25.00px;">07</div>
<div class="t " style="left:555.00px;top:429.00px;width:25.00px;height:25.00px;line-height:25.00px;">12</div>
<div class="t " style="left:686.00px;top:429.00px;width:26.00px;height:25.00px;line-height:25.00px;">17</div>
<div class="t " style="left:713.00px;top:429.00px;width:25.00px;height:25.00px;line-height:25.00px;">18</div>
<div class="t " style="left:1002.00px;top:429.00px;width:25.00px;height:25.00px;line-height:25.00px;">29</div>
<div class="t " style="left:949.00px;top:429.00px;width:26.00px;height:25.00px;line-height:25.00px;">27</div>
<div class="t " style="left:371.00px;top:429.00px;width:25.00px;height:25.00px;line-height:25.00px;">05</div>
<div class="t " style="left:739.00px;top:429.00px;width:25.00px;height:25.00px;line-height:25.00px;">19</div>
<div class="t red" style="left:424.00px;top:429.00px;width:25.00px;height:25.00px;line-height:25.00px;">07</div>
<div class="t " style="left:1054.00px;top:429.00px;width:24.00px;height:25.00px;line-height:25.00px;">2</div>
<div class="t " style="left:1079.00px;top:429.00px;width:24.00px;height:25.00px;line-height:25.00px;">3</div>
<div class="t " style="left:1104.00px;top:429.00px;width:35.00px;height:25.00px;line-height:25.00px;">134</div>
<div class="t " style="left:1140.00px;top:429.00px;width:35.00px;height:25.00px;line-height:25.00px;">6:2</div>
<div class="t " style="left:1176.00px;top:429.00px;width:47.00px;height:25.00px;line-height:25.00px;">2:4:2</div>
<div class="t " style="left:0.00px;top:456.00px;width:55.00px;height:25.00px;line-height:25.00px;">21142</div>
<div class="t red" style="left:56.00px;top:456.00px;width:25.00px;height:25.00px;line-height:25.00px;">11</div>
<div class="t " style="left:82.00px;top:456.00px;width:25.00px;height:25.00px;line-height:25.00px;">04</div>
<div class="t " style="left:108.00px;top:456.00px;width:26.00px;height:25.00px;line-height:25.00px;">06</div>
<div class="t " style="left:135.00px;top:456.00px;width:25.00px;height:25.00px;line-height:25.00px;">02</div>
<div class="t " style="left:161.00px;top:456.00px;width:25.00px;height:25.00px;line-height:25.00px;">16</div>
<div class="t red" style="left:187.00px;top:456.00px;width:25.00px;height:25.00px;line-height:25.00px;">17</div>
<div class="t " style="left:213.00px;top:456.00px;width:26.00px;height:25.00px;line-height:25.00px;">14</div>
<div class="t red" style="left:240.00px;top:456.00px;width:25.00px;height:25.00px;line-height:25.00px;">27</div>
<div class="t " style="left:529.00px;top:456.00px;width:25.00px;height:25.00px;line-height:25.00px;">11</div>
<div class="t " style="left:345.00px;top:456.00px;width:25.00px;height:25.00px;line-height:25.00px;">04</div>
<div class="t " style="left:397.00px;top:456.00px;width:26.00px;height:25.00px;line-height:25.00px;">06</div>
<div class="t " style="left:292.00px;top:456.00px;width:26.00px;height:25.00px;line-height:25.00px;">02</div>
<div class="t " style="left:660.00px;top:456.00px;width:25.00px;height:25.00px;line-height:25.00px;">16</div>
<div class="t " style="left:686.00px;top:456.00px;width:26.00px;height:25.00px;line-height:25.00px;">17</div>
<div class="t " style="left:608.00px;top:456.00px;width:25.00px;height:25.00px;line-height:25.00px;">14</div>
<div class="t red" style="left:949.00px;top:456.00px;width:26.00px;height:25.00px;line-height:25.00px;">27</div>
<div class="t " style="left:1054.00px;top:456.00px;width:24.00px;height:25.00px;line-height:25.00px;">2</div>
<div class="t " style="left:1079.00px;top:456.00px;width:24.00px;height:25.00px;line-height:25.00px;">2</div>
<div class="t " style="left:1104.00px;top:456.00px;width:35.00px;height:25.00px;line-height:25.00px;">&nbsp;97</div>
<div class="t " style="left:1140.00px;top:456.00px;width:35.00px;height:25.00px;line-height:25.00px;">3:5</div>
<div class="t " style="left:1176.00px;top:456.00px;width:47.00px;height:25.00px;line-height:25.00px;">3:4:1</div>
<div class="t " style="left:0.00px;top:482.00px;width:55.00px;height:26.00px;line-height:26.00px;">21143</div>
<div class="t " style="left:56.00px;top:482.00px;width:25.00px;height:26.00px;line-height:26.00px;">20</div>
<div class="t " style="left:82.00px;top:482.00px;width:25.00px;height:26.00px;line-height:26.00px;">10</div>
<div class="t " style="left:108.00px;top:482.00px;width:26.00px;height:26.00px;line-height:26.00px;">18</div>
<div class="t red" style="left:135.00px;top:482.00px;width:25.00px;height:26.00px;line-height:26.00px;">13</div>
<div class="t " style="left:161.00px;top:482.00px;width:25.00px;height:26.00px;line-height:26.00px;">16</div>
<div class="t " style="left:187.00px;top:482.00px;width:25.00px;height:26.00px;line-height:26.00px;">14</div>
<div class="t " style="left:213.00px;top:482.00px;width:26.00px;height:26.00px;line-height:26.00px;">02</div>
<div class="t " style="left:240.00px;top:482.00px;width:25.00px;height:26.00px;line-height:26.00px;">30</div>
<div class="t " style="left:765.00px;top:482.00px;width:26.00px;height:26.00px;line-height:26.00px;">20</div>
<div class="t " style="left:503.00px;top:482.00px;width:25.00px;height:26.00px;line-height:26.00px;">10</div>
<div class="t " style="left:713.00px;top:482.00px;width:25.00px;height:26.00px;line-height:26.00px;">18</div>
<div class="t " style="left:581.00px;top:482.00px;width:26.00px;height:26.00px;line-height:26.00px;">13</div>
<div class="t " style="left:660.00px;top:482.00px;width:25.00px;height:26.00px;line-height:26.00px;">16</div>
<div class="t " style="left:608.00px;top:482.00px;width:25.00px;height:26.00px;line-height:26.00px;">14</div>
<div class="t " style="left:292.00px;top:482.00px;width:26.00px;height:26.00px;line-height:26.00px;">02</div>
<div class="t red" style="left:1028.00px;top:482.00px;width:25.00px;height:26.00px;line-height:26.00px;">30</div>
<div class="t " style="left:1054.00px;top:482.00px;width:24.00px;height:26.00px;line-height:26.00px;">3</div>
<div class="t " style="left:1079.00px;top:482.00px;width:24.00px;height:26.00px;line-height:26.00px;">2</div>
<div class="t " style="left:1104.00px;top:482.00px;width:35.00px;height:26.00px;line-height:26.00px;">123</div>
<div class="t " style="left:1140.00px;top:482.00px;width:35.00px;height:26.00px;line-height:26.00px;">1:7</div>
<div class="t " style="left:1176.00px;top:482.00px;width:47.00px;height:26.00px;line-height:26.00px;">2:5:1</div>
<div class="t " style="left:0.00px;top:508.00px;width:55.00px;height:25.00px;line-height:25.00px;">21144</div>
<div class="t red" style="left:56.00px;top:508.00px;width:25.00px;height:25.00px;line-height:25.00px;">03</div>
<div class="t red" style="left:82.00px;top:508.00px;width:25.00px;height:25.00px;line-height:25.00px;">17</div>
<div class="t " style="left:108.00px;top:508.00px;width:26.00px;height:25.00px;line-height:25.00px;">14</div>
<div class="t " style="left:135.00px;top:508.00px;width:25.00px;height:25.00px;line-height:25.00px;">04</div>
<div class="t red" style="left:161.00px;top:508.00px;width:25.00px;height:25.00px;line-height:25.00px;">23</div>
<div class="t " style="left:187.00px;top:508.00px;width:25.00px;height:25.00px;line-height:25.00px;">24</div>
<div class="t red" style="left:213.00px;top:508.00px;width:26.00px;height:25.00px;line-height:25.00px;">27</div>
<div class="t " style="left:240.00px;top:508.00px;width:25.00px;height:25.00px;line-height:25.00px;">18</div>
<div class="t " style="left:319.00px;top:508.00px;width:25.00px;height:25.00px;line-height:25.00px;">03</div>
<div class="t " style="left:686.00px;top:508.00px;width:26.00px;height:25.00px;line-height:25.00px;">17</div>
<div class="t " style="left:608.00px;top:508.00px;width:25.00px;height:25.00px;line-height:25.00px;">14</div>
<div class="t " style="left:345.00px;top:508.00px;width:25.00px;height:25.00px;line-height:25.00px;">04</div>
<div class="t " style="left:844.00px;top:508.00px;width:25.00px;height:25.00px;line-height:25.00px;">23</div>
<div class="t " style="left:870.00px;top:508.00px;width:26.00px;height:25.00px;line-height:25.00px;">24</div>
<div class="t " style="left:949.00px;top:508.00px;width:26.00px;height:25.00px;line-height:25.00px;">27</div>
<div class="t red" style="left:713.00px;top:508.00px;width:25.00px;height:25.00px;line-height:25.00px;">18</div>
<div class="t " style="left:1054.00px;top:508.00px;width:24.00px;height:25.00px;line-height:25.00px;">2</div>
<div class="t " style="left:1079.00px;top:508.00px;width:24.00px;height:25.00px;line-height:25.00px;">6</div>
<div class="t " style="left:1104.00px;top:508.00px;width:35.00px;height:25.00px;line-height:25.00px;">130</div>
<div class="t " style="left:1140.00px;top:508.00px;width:35.00px;height:25.00px;line-height:25.00px;">4:4</div>
<div class="t " style="left:1176.00px;top:508.00px;width:47.00px;height:25.00px;line-height:25.00px;">2:3:3</div>
<div class="t " style="left:0.00px;top:534.00px;width:55.00px;height:25.00px;line-height:25.00px;">21145</div>
<div class="t red" style="left:56.00px;top:534.00px;width:25.00px;height:25.00px;line-height:25.00px;">01</div>
<div class="t red" style="left:82.00px;top:534.00px;width:25.00px;height:25.00px;line-height:25.00px;">27</div>
<div class="t " style="left:108.00px;top:534.00px;width:26.00px;height:25.00px;line-height:25.00px;">22</div>
<div class="t " style="left:135.00px;top:534.00px;width:25.00px;height:25.00px;line-height:25.00px;">20</div>
<div class="t red" style="left:161.00px;top:534.00px;width:25.00px;height:25.00px;line-height:25.00px;">09</div>
<div class="t " style="left:187.00px;top:534.00px;width:25.00px;height:25.00px;line-height:25.00px;">18</div>
<div class="t red" style="left:213.00px;top:534.00px;width:26.00px;height:25.00px;line-height:25.00px;">29</div>
<div class="t " style="left:240.00px;top:534.00px;width:25.00px;height:25.00px;line-height:25.00px;">04</div>
<div class="t " style="left:266.00px;top:534.00px;width:25.00px;height:25.00px;line-height:25.00px;">01</div>
<div class="t " style="left:949.00px;top:534.00px;width:26.00px;height:25.00px;line-height:25.00px;">27</div>
<div class="t " style="left:818.00px;top:534.00px;width:25.00px;height:25.00px;line-height:25.00px;">22</div>
<div class="t " style="left:765.00px;top:534.00px;width:26.00px;height:25.00px;line-height:25.00px;">20</div>
<div class="t " style="left:476.00px;top:534.00px;width:26.00px;height:25.00px;line-height:25.00px;">09</div>
<div class="t " style="left:713.00px;top:534.00px;width:25.00px;height:25.00px;line-height:25.00px;">18</div>
<div class="t " style="left:1002.00px;top:534.00px;width:25.00px;height:25.00px;line-height:25.00px;">29</div>
<div class="t red" style="left:345.00px;top:534.00px;width:25.00px;height:25.00px;line-height:25.00px;">04</div>
<div class="t " style="left:1054.00px;top:534.00px;width:24.00px;height:25.00px;line-height:25.00px;">3</div>
<div class="t " style="left:1079.00px;top:534.00px;width:24.00px;height:25.00px;line-height:25.00px;">0</div>
<div class="t " style="left:1104.00px;top:534.00px;width:35.00px;height:25.00px;line-height:25.00px;">130</div>
<div class="t " style="left:1140.00px;top:534.00px;width:35.00px;height:25.00px;line-height:25.00px;">4:4</div>
<div class="t " style="left:1176.00px;top:534.00px;width:47.00px;height:25.00px;line-height:25.00px;">3:2:3</div>
<div class="t " style="left:0.00px;top:561.00px;width:55.00px;height:25.00px;line-height:25.00px;">21146</div>
<div class="t red" style="left:56.00px;top:561.00px;width:25.00px;height:25.00px;line-height:25.00px;">25</div>
<div class="t " style="left:82.00px;top:561.00px;width:25.00px;height:25.00px;line-height:25.00px;">02</div>
<div class="t " style="left:108.00px;top:561.00px;width:26.00px;height:25.00px;line-height:25.00px;">20</div>
<div class="t red" style="left:135.00px;top:561.00px;width:25.00px;height:25.00px;line-height:25.00px;">19</div>
<div class="t red" style="left:161.00px;top:561.00px;width:25.00px;height:25.00px;line-height:25.00px;">07</div>
<div class="t " style="left:187.00px;top:561.00px;width:25.00px;height:25.00px;line-height:25.00px;">28</div>
<div class="t " style="left:213.00px;top:561.00px;width:26.00px;height:25.00px;line-height:25.00px;">30</div>
<div class="t " style="left:240.00px;top:561.00px;width:25.00px;height:25.00px;line-height:25.00px;">22</div>
<div class="t " style="left:897.00px;top:561.00px;width:25.00px;height:25.00px;line-height:25.00px;">25</div>
<div class="t " style="left:292.00px;top:561.00px;width:26.00px;height:25.00px;line-height:25.00px;">02</div>
<div class="t " style="left:765.00px;top:561.00px;width:26.00px;height:25.00px;line-height:25.00px;">20</div>
<div class="t " style="left:739.00px;top:561.00px;width:25.00px;height:25.00px;line-height:25.00px;">19</div>
<div class="t " style="left:424.00px;top:561.00px;width:25.00px;height:25.00px;line-height:25.00px;">07</div>
<div class="t " style="left:976.00px;top:561.00px;width:25.00px;height:25.00px;line-height:25.00px;">28</div>
<div class="t " style="left:1028.00px;top:561.00px;width:25.00px;height:25.00px;line-height:25.00px;">30</div>
<div class="t red" style="left:818.00px;top:561.00px;width:25.00px;height:25.00px;line-height:25.00px;">22</div>
<div class="t " style="left:1054.00px;top:561.00px;width:24.00px;height:25.00px;line-height:25.00px;">2</div>
<div class="t " style="left:1079.00px;top:561.00px;width:24.00px;height:25.00px;line-height:25.00px;">2</div>
<div class="t " style="left:1104.00px;top:561.00px;width:35.00px;height:25.00px;line-height:25.00px;">153</div>
<div class="t " style="left:1140.00px;top:561.00px;width:35.00px;height:25.00px;line-height:25.00px;">3:5</div>
<div class="t " style="left:1176.00px;top:561.00px;width:47.00px;height:25.00px;line-height:25.00px;">2:2:4</div>
<div class="t " style="left:0.00px;top:587.00px;width:55.00px;height:26.00px;line-height:26.00px;">21147</div>
<div class="t red" style="left:56.00px;top:587.00px;width:25.00px;height:26.00px;line-height:26.00px;">11</div>
<div class="t " style="left:82.00px;top:587.00px;width:25.00px;height:26.00px;line-height:26.00px;">24</div>
<div class="t red" style="left:108.00px;top:587.00px;width:26.00px;height:26.00px;line-height:26.00px;">25</div>
<div class="t " style="left:135.00px;top:587.00px;width:25.00px;height:26.00px;line-height:26.00px;">22</div>
<div class="t " style="left:161.00px;top:587.00px;width:25.00px;height:26.00px;line-height:26.00px;">18</div>
<div class="t red" style="left:187.00px;top:587.00px;width:25.00px;height:26.00px;line-height:26.00px;">03</div>
<div class="t red" style="left:213.00px;top:587.00px;width:26.00px;height:26.00px;line-height:26.00px;">05</div>
<div class="t red" style="left:240.00px;top:587.00px;width:25.00px;height:26.00px;line-height:26.00px;">23</div>
<div class="t " style="left:529.00px;top:587.00px;width:25.00px;height:26.00px;line-height:26.00px;">11</div>
<div class="t " style="left:870.00px;top:587.00px;width:26.00px;height:26.00px;line-height:26.00px;">24</div>
<div class="t " style="left:897.00px;top:587.00px;width:25.00px;height:26.00px;line-height:26.00px;">25</div>
<div class="t " style="left:818.00px;top:587.00px;width:25.00px;height:26.00px;line-height:26.00px;">22</div>
<div class="t " style="left:713.00px;top:587.00px;width:25.00px;height:26.00px;line-height:26.00px;">18</div>
<div class="t " style="left:319.00px;top:587.00px;width:25.00px;height:26.00px;line-height:26.00px;">03</div>
<div class="t " style="left:371.00px;top:587.00px;width:25.00px;height:26.00px;line-height:26.00px;">05</div>
<div class="t red" style="left:844.00px;top:587.00px;width:25.00px;height:26.00px;line-height:26.00px;">23</div>
<div class="t " style="left:1054.00px;top:587.00px;width:24.00px;height:26.00px;line-height:26.00px;">2</div>
<div class="t " style="left:1079.00px;top:587.00px;width:24.00px;height:26.00px;line-height:26.00px;">4</div>
<div class="t " style="left:1104.00px;top:587.00px;width:35.00px;height:26.00px;line-height:26.00px;">131</div>
<div class="t " style="left:1140.00px;top:587.00px;width:35.00px;height:26.00px;line-height:26.00px;">5:3</div>
<div class="t " style="left:1176.00px;top:587.00px;width:47.00px;height:26.00px;line-height:26.00px;">2:2:4</div>
<div class="t cn" style="left:0.00px;top:744.00px;width:55.00px;height:76.00px;line-height:76.00px;">统计</div>
<div class="bar" style="left:274px;top:798px;height:21px"></div>
<div class="t " style="left:267.30px;top:775.00px;width:25.00px;height:21.00px;line-height:21.00px;">3</div>
<div class="t red" style="left:266.00px;top:820.00px;width:25.00px;height:25.00px;line-height:25.00px;">01</div>
<div class="bar" style="left:300px;top:777px;height:42px"></div>
<div class="t " style="left:293.30px;top:754.00px;width:26.00px;height:21.00px;line-height:21.00px;">6</div>
<div class="t red" style="left:292.00px;top:820.00px;width:26.00px;height:25.00px;line-height:25.00px;">02</div>
<div class="bar" style="left:326px;top:791px;height:28px"></div>
<div class="t " style="left:320.30px;top:768.00px;width:25.00px;height:21.00px;line-height:21.00px;">5</div>
<div class="t red" style="left:319.00px;top:820.00px;width:25.00px;height:25.00px;line-height:25.00px;">03</div>
<div class="bar" style="left:352px;top:770px;height:49px"></div>
<div class="t " style="left:346.30px;top:747.00px;width:25.00px;height:21.00px;line-height:21.00px;">8</div>
<div class="t red" style="left:345.00px;top:820.00px;width:25.00px;height:25.00px;line-height:25.00px;">04</div>
<div class="bar" style="left:379px;top:777px;height:42px"></div>
<div class="t " style="left:372.30px;top:754.00px;width:25.00px;height:21.00px;line-height:21.00px;">6</div>
<div class="t red" style="left:371.00px;top:820.00px;width:25.00px;height:25.00px;line-height:25.00px;">05</div>
<div class="bar" style="left:405px;top:805px;height:14px"></div>
<div class="t " style="left:398.30px;top:782.00px;width:26.00px;height:21.00px;line-height:21.00px;">3</div>
<div class="t red" style="left:397.00px;top:820.00px;width:26.00px;height:25.00px;line-height:25.00px;">06</div>
<div class="bar" style="left:431px;top:784px;height:35px"></div>
<div class="t " style="left:425.30px;top:761.00px;width:25.00px;height:21.00px;line-height:21.00px;">6</div>
<div class="t red" style="left:424.00px;top:820.00px;width:25.00px;height:25.00px;line-height:25.00px;">07</div>
<div class="bar" style="left:458px;top:791px;height:28px"></div>
<div class="t " style="left:451.30px;top:768.00px;width:25.00px;height:21.00px;line-height:21.00px;">4</div>
<div class="t red" style="left:450.00px;top:820.00px;width:25.00px;height:25.00px;line-height:25.00px;">08</div>
<div class="bar" style="left:484px;top:791px;height:28px"></div>
<div class="t " style="left:477.30px;top:768.00px;width:26.00px;height:21.00px;line-height:21.00px;">6</div>
<div class="t red" style="left:476.00px;top:820.00px;width:26.00px;height:25.00px;line-height:25.00px;">09</div>
<div class="bar" style="left:510px;top:784px;height:35px"></div>
<div class="t " style="left:504.30px;top:761.00px;width:25.00px;height:21.00px;line-height:21.00px;">5</div>
<div class="t red" style="left:503.00px;top:820.00px;width:25.00px;height:25.00px;line-height:25.00px;">10</div>
<div class="bar" style="left:536px;top:791px;height:28px"></div>
<div class="t " style="left:530.30px;top:768.00px;width:25.00px;height:21.00px;line-height:21.00px;">5</div>
<div class="t red" style="left:529.00px;top:820.00px;width:25.00px;height:25.00px;line-height:25.00px;">11</div>
<div class="bar" style="left:563px;top:791px;height:28px"></div>
<div class="t " style="left:556.30px;top:768.00px;width:25.00px;height:21.00px;line-height:21.00px;">4</div>
<div class="t red" style="left:555.00px;top:820.00px;width:25.00px;height:25.00px;line-height:25.00px;">12</div>
<div class="bar" style="left:589px;top:777px;height:42px"></div>
<div class="t " style="left:582.30px;top:754.00px;width:26.00px;height:21.00px;line-height:21.00px;">6</div>
<div class="t red" style="left:581.00px;top:820.00px;width:26.00px;height:25.00px;line-height:25.00px;">13</div>
<div class="bar" style="left:615px;top:770px;height:49px"></div>
<div class="t " style="left:609.30px;top:747.00px;width:25.00px;height:21.00px;line-height:21.00px;">8</div>
<div class="t red" style="left:608.00px;top:820.00px;width:25.00px;height:25.00px;line-height:25.00px;">14</div>
<div class="bar" style="left:642px;top:798px;height:21px"></div>
<div class="t " style="left:635.30px;top:775.00px;width:25.00px;height:21.00px;line-height:21.00px;">3</div>
<div class="t red" style="left:634.00px;top:820.00px;width:25.00px;height:25.00px;line-height:25.00px;">15</div>
<div class="bar" style="left:668px;top:770px;height:49px"></div>
<div class="t " style="left:661.30px;top:747.00px;width:25.00px;height:21.00px;line-height:21.00px;">9</div>
<div class="t red" style="left:660.00px;top:820.00px;width:25.00px;height:25.00px;line-height:25.00px;">16</div>
<div class="bar" style="left:694px;top:798px;height:21px"></div>
<div class="t " style="left:687.30px;top:775.00px;width:26.00px;height:21.00px;line-height:21.00px;">3</div>
<div class="t red" style="left:686.00px;top:820.00px;width:26.00px;height:25.00px;line-height:25.00px;">17</div>
<div class="bar" style="left:720px;top:777px;height:42px"></div>
<div class="t " style="left:714.30px;top:754.00px;width:25.00px;height:21.00px;line-height:21.00px;">7</div>
<div class="t red" style="left:713.00px;top:820.00px;width:25.00px;height:25.00px;line-height:25.00px;">18</div>
<div class="bar" style="left:747px;top:784px;height:35px"></div>
<div class="t " style="left:740.30px;top:761.00px;width:25.00px;height:21.00px;line-height:21.00px;">5</div>
<div class="t red" style="left:739.00px;top:820.00px;width:25.00px;height:25.00px;line-height:25.00px;">19</div>
<div class="bar" style="left:773px;top:784px;height:35px"></div>
<div class="t " style="left:766.30px;top:761.00px;width:26.00px;height:21.00px;line-height:21.00px;">5</div>
<div class="t red" style="left:765.00px;top:820.00px;width:26.00px;height:25.00px;line-height:25.00px;">20</div>
<div class="bar" style="left:799px;top:777px;height:42px"></div>
<div class="t " style="left:793.30px;top:754.00px;width:25.00px;height:21.00px;line-height:21.00px;">6</div>
<div class="t red" style="left:792.00px;top:820.00px;width:25.00px;height:25.00px;line-height:25.00px;">21</div>
<div class="bar" style="left:826px;top:784px;height:35px"></div>
<div class="t " style="left:819.30px;top:761.00px;width:25.00px;height:21.00px;line-height:21.00px;">8</div>
<div class="t red" style="left:818.00px;top:820.00px;width:25.00px;height:25.00px;line-height:25.00px;">22</div>
<div class="bar" style="left:852px;top:805px;height:14px"></div>
<div class="t " style="left:845.30px;top:782.00px;width:25.00px;height:21.00px;line-height:21.00px;">3</div>
<div class="t red" style="left:844.00px;top:820.00px;width:25.00px;height:25.00px;line-height:25.00px;">23</div>
<div class="bar" style="left:878px;top:784px;height:35px"></div>
<div class="t " style="left:871.30px;top:761.00px;width:26.00px;height:21.00px;line-height:21.00px;">6</div>
<div class="t red" style="left:870.00px;top:820.00px;width:26.00px;height:25.00px;line-height:25.00px;">24</div>
<div class="bar" style="left:904px;top:770px;height:49px"></div>
<div class="t " style="left:898.30px;top:747.00px;width:25.00px;height:21.00px;line-height:21.00px;">7</div>
<div class="t red" style="left:897.00px;top:820.00px;width:25.00px;height:25.00px;line-height:25.00px;">25</div>
<div class="bar" style="left:931px;top:784px;height:35px"></div>
<div class="t " style="left:924.30px;top:761.00px;width:25.00px;height:21.00px;line-height:21.00px;">5</div>
<div class="t red" style="left:923.00px;top:820.00px;width:25.00px;height:25.00px;line-height:25.00px;">26</div>
<div class="bar" style="left:957px;top:784px;height:35px"></div>
<div class="t " style="left:950.30px;top:761.00px;width:26.00px;height:21.00px;line-height:21.00px;">6</div>
<div class="t red" style="left:949.00px;top:820.00px;width:26.00px;height:25.00px;line-height:25.00px;">27</div>
<div class="bar" style="left:983px;top:812px;height:7px"></div>
<div class="t " style="left:977.30px;top:789.00px;width:25.00px;height:21.00px;line-height:21.00px;">2</div>
<div class="t red" style="left:976.00px;top:820.00px;width:25.00px;height:25.00px;line-height:25.00px;">28</div>
<div class="bar" style="left:1009px;top:798px;height:21px"></div>
<div class="t " style="left:1003.30px;top:775.00px;width:25.00px;height:21.00px;line-height:21.00px;">3</div>
<div class="t red" style="left:1002.00px;top:820.00px;width:25.00px;height:25.00px;line-height:25.00px;">29</div>
<div class="bar" style="left:1036px;top:784px;height:35px"></div>
<div class="t " style="left:1029.30px;top:761.00px;width:25.00px;height:21.00px;line-height:21.00px;">7</div>
<div class="t red" style="left:1028.00px;top:820.00px;width:25.00px;height:25.00px;line-height:25.00px;">30</div>
<div class="wm"><span class="sq"></span><span class="wt">cz89.com</span></div>
</body></html>
